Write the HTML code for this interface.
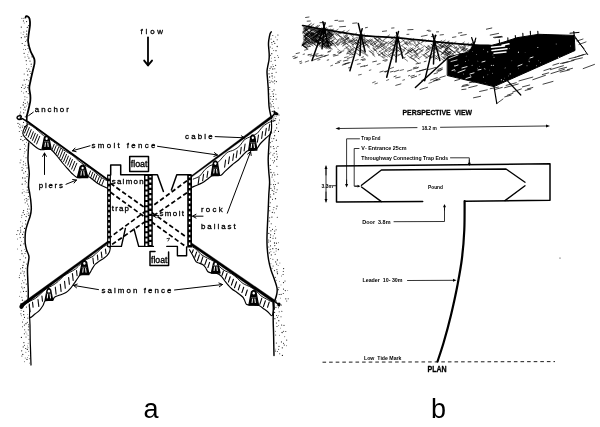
<!DOCTYPE html>
<html lang="en"><head><meta charset="utf-8"><title>Salmon trap diagrams</title>
<style>
html,body{margin:0;padding:0;background:#fff;}
body{width:600px;height:427px;overflow:hidden;}
svg{display:block;font-family:"Liberation Sans",sans-serif;font-variant-ligatures:none;font-kerning:none;}
svg text{fill:#000;stroke:none;}
</style></head><body>
<svg width="600" height="427" viewBox="0 0 600 427" stroke="#000" fill="none" stroke-linecap="round" stroke-linejoin="round">
<defs><filter id="soft" x="0" y="0" width="600" height="427" filterUnits="userSpaceOnUse"><feGaussianBlur stdDeviation="0.38"/></filter></defs>
<g filter="url(#soft)">
<rect x="0" y="0" width="600" height="427" fill="#fff" stroke="none"/>
<g id="plan">
<line x1="417.0" y1="127.6" x2="339.0" y2="128.5" stroke-width="0.8" />
<polygon points="335.5,128.5 339.5,126.9 339.5,130.1" fill="#000" stroke="none"/>
<line x1="440.5" y1="127.3" x2="546.5" y2="126.0" stroke-width="0.8" />
<polygon points="550.0,126.0 546.0,127.6 546.0,124.4" fill="#000" stroke="none"/>
<text x="421.7" y="130.2" font-size="5" letter-spacing="0" font-weight="bold" text-anchor="start" textLength="15.1" lengthAdjust="spacingAndGlyphs" style="white-space:pre">18.2 m</text>
<path d="M422.7 201.5 L336.5 202.0 L336.5 166.0 L550.0 163.8 L550.0 200.3 L464.6 201.2" stroke-width="1.5" fill="none" />
<path d="M361.5 185.3 L381.4 170.0 L506.0 169.0 L525.0 182.2" stroke-width="1.4" fill="none" />
<path d="M361.5 187.0 L381.4 201.6" stroke-width="1.4" fill="none" />
<path d="M525.0 185.8 L505.0 200.6" stroke-width="1.4" fill="none" />
<path d="M464.6 201.2 C464.6 206.0 464.7 220.5 464.3 230.0 C463.9 239.5 463.1 248.8 462.0 258.0 C460.9 267.2 459.3 275.5 457.5 285.0 C455.7 294.5 453.3 305.3 451.0 315.0 C448.7 324.7 445.8 335.2 443.5 343.0 C441.2 350.8 438.5 358.4 437.5 361.5" stroke-width="2.2" fill="none" />
<line x1="326.0" y1="175.0" x2="326.0" y2="168.5" stroke-width="0.8" />
<polygon points="326.0,165.5 327.5,169.0 324.5,169.0" fill="#000" stroke="none"/>
<line x1="326.0" y1="192.0" x2="326.0" y2="199.5" stroke-width="0.8" />
<polygon points="326.0,202.5 324.5,199.0 327.5,199.0" fill="#000" stroke="none"/>
<line x1="326.0" y1="166.0" x2="326.0" y2="202.0" stroke-width="0.8" />
<line x1="333.0" y1="185.7" x2="336.5" y2="185.7" stroke-width="0.8" />
<text x="321.5" y="187.6" font-size="5" letter-spacing="0" font-weight="bold" text-anchor="start" stroke="#fff" stroke-width="1.2" paint-order="stroke">3.3m</text>
<text x="361.3" y="140.4" font-size="4.9" letter-spacing="0" font-weight="bold" text-anchor="start" textLength="19.1" lengthAdjust="spacingAndGlyphs" style="white-space:pre">Trap End</text>
<path d="M359.5 138.8 L346.6 138.8 L346.6 184.0" stroke-width="0.8" fill="none" />
<line x1="346.6" y1="180.0" x2="346.6" y2="184.5" stroke-width="0.8" />
<polygon points="346.6,187.5 345.1,184.0 348.1,184.0" fill="#000" stroke="none"/>
<text x="361.3" y="150.1" font-size="4.9" letter-spacing="0" font-weight="bold" text-anchor="start" textLength="45.3" lengthAdjust="spacingAndGlyphs" style="white-space:pre">V- Entrance 25cm</text>
<path d="M359.0 148.5 L354.2 148.5 L354.2 186.2 L357.0 186.2" stroke-width="0.8" fill="none" />
<line x1="355.0" y1="186.2" x2="358.0" y2="186.2" stroke-width="0.8" />
<polygon points="360.5,186.2 357.5,187.6 357.5,184.8" fill="#000" stroke="none"/>
<text x="361.3" y="160.2" font-size="4.9" letter-spacing="0" font-weight="bold" text-anchor="start" textLength="86.8" lengthAdjust="spacingAndGlyphs" style="white-space:pre">Throughway Connecting Trap Ends</text>
<path d="M450.5 157.8 L469.3 157.8 L469.3 163.0" stroke-width="0.8" fill="none" />
<line x1="469.3" y1="160.0" x2="469.3" y2="163.3" stroke-width="0.8" />
<polygon points="469.3,166.0 467.8,162.8 470.8,162.8" fill="#000" stroke="none"/>
<text x="428.0" y="188.8" font-size="4.9" letter-spacing="0" font-weight="bold" text-anchor="start" textLength="15" lengthAdjust="spacingAndGlyphs" style="white-space:pre">Pound</text>
<text x="362.3" y="224.0" font-size="4.9" letter-spacing="0" font-weight="bold" text-anchor="start" textLength="28.2" lengthAdjust="spacingAndGlyphs" style="white-space:pre">Door  3.8m</text>
<path d="M394.0 221.7 L444.5 221.5 L444.5 208.0" stroke-width="0.8" fill="none" />
<line x1="444.5" y1="210.0" x2="444.5" y2="206.7" stroke-width="0.8" />
<polygon points="444.5,204.0 446.0,207.2 443.0,207.2" fill="#000" stroke="none"/>
<text x="362.5" y="282.2" font-size="4.9" letter-spacing="0" font-weight="bold" text-anchor="start" textLength="40" lengthAdjust="spacingAndGlyphs" style="white-space:pre">Leader  10- 30m</text>
<line x1="407.5" y1="280.5" x2="453.5" y2="280.3" stroke-width="0.8" />
<polygon points="456.5,280.3 453.0,281.8 453.0,278.8" fill="#000" stroke="none"/>
<line x1="322.5" y1="362.2" x2="555" y2="361.6" stroke-width="0.9" stroke-dasharray="3.6 3" stroke-linecap="butt"/>
<text x="364.0" y="360.3" font-size="4.5" letter-spacing="0" font-weight="bold" text-anchor="start" textLength="37.5" lengthAdjust="spacingAndGlyphs" style="white-space:pre">Low  Tide Mark</text>
<text x="427.5" y="371.6" font-size="8.2" letter-spacing="0" font-weight="bold" text-anchor="start" textLength="19.2" lengthAdjust="spacingAndGlyphs" style="stroke:#000;stroke-width:0.3px">PLAN</text>
<text x="438.5" y="417.8" font-size="27" letter-spacing="0" font-weight="normal" text-anchor="middle" >b</text>
<text x="402.5" y="114.9" font-size="7.8" letter-spacing="0" font-weight="bold" text-anchor="start" textLength="69.5" lengthAdjust="spacingAndGlyphs" style="white-space:pre;stroke:#000;stroke-width:0.3px">PERSPECTIVE  VIEW</text>
<circle cx="560" cy="258" r="0.6" fill="#222" stroke="none"/>
</g>
<g id="diagA">
<path d="M25.5 17.5 C25.6 17.3 25.8 16.3 26.2 16.2 C26.6 16.1 27.4 16.1 28.0 16.6 C28.6 17.1 29.3 17.6 29.6 19.0 C29.9 20.4 30.2 22.3 30.0 25.0 C29.8 27.7 28.9 32.2 28.6 35.0 C28.3 37.8 27.9 39.3 28.2 42.0 C28.5 44.7 29.5 48.2 30.5 51.0 C31.5 53.8 33.6 56.8 34.3 59.0 C34.9 61.2 34.7 61.8 34.4 64.0 C34.1 66.2 33.1 69.2 32.5 72.0 C31.9 74.8 31.0 78.3 30.5 81.0 C30.0 83.7 29.3 85.7 29.3 88.0 C29.3 90.3 30.1 92.8 30.3 95.0 C30.5 97.2 30.6 98.7 30.3 101.0 C30.0 103.3 29.2 106.3 28.6 109.0 C28.0 111.7 26.9 115.7 26.5 117.0" stroke-width="1.8" fill="none" />
<path d="M28.7 143.0 C28.6 144.5 28.3 149.2 28.2 152.0 C28.1 154.8 27.9 157.3 28.0 160.0 C28.1 162.7 28.6 165.7 28.8 168.0 C29.0 170.3 29.3 171.8 29.3 174.0 C29.3 176.2 28.8 178.8 28.7 181.0 C28.6 183.2 28.4 184.8 28.6 187.0 C28.8 189.2 29.5 191.8 29.8 194.0 C30.1 196.2 30.4 197.5 30.7 200.0 C30.9 202.5 31.4 206.3 31.3 209.0 C31.2 211.7 30.8 213.8 30.2 216.0 C29.6 218.2 28.7 220.3 28.0 222.5 C27.3 224.7 26.5 226.9 26.0 229.0 C25.5 231.1 25.3 232.7 25.2 235.0 C25.1 237.3 25.0 240.5 25.2 243.0 C25.4 245.5 26.0 247.7 26.6 250.0 C27.2 252.3 28.9 254.0 29.0 257.0 C29.1 260.0 27.7 264.2 27.5 268.0 C27.3 271.8 27.7 276.0 27.8 280.0 C27.9 284.0 28.3 288.3 28.3 292.0 C28.3 295.7 28.1 300.3 28.0 302.0" stroke-width="1.5" fill="none" />
<path d="M29.5 316.0 C29.6 317.5 29.9 321.0 30.0 325.0 C30.1 329.0 30.1 335.5 30.2 340.0 C30.3 344.5 30.5 347.8 30.6 352.0 C30.7 356.2 30.9 362.8 31.0 365.0" stroke-width="1.25" fill="none" />
<path d="M271.3 31.8 C271.1 32.2 270.4 32.6 270.0 34.0 C269.6 35.4 269.1 38.2 268.8 40.0 C268.6 41.8 268.4 42.7 268.5 45.0 C268.6 47.3 269.1 51.5 269.2 54.0 C269.3 56.5 269.3 57.8 269.0 60.0 C268.7 62.2 267.9 65.0 267.6 67.0 C267.3 69.0 267.0 69.8 267.0 72.0 C267.0 74.2 267.4 77.3 267.6 80.0 C267.8 82.7 268.0 85.0 268.2 88.0 C268.4 91.0 268.5 95.0 268.6 98.0 C268.7 101.0 268.8 103.7 269.0 106.0 C269.2 108.3 269.6 110.0 270.0 112.0 C270.4 114.0 271.2 117.0 271.5 118.0" stroke-width="1.45" fill="none" />
<path d="M270.8 132.0 C270.6 133.0 269.7 135.5 269.4 138.0 C269.1 140.5 269.0 143.3 268.8 147.0 C268.6 150.7 268.2 155.8 268.2 160.0 C268.2 164.2 268.6 168.3 268.8 172.0 C269.0 175.7 269.6 178.2 269.6 182.0 C269.6 185.8 269.0 190.7 268.8 195.0 C268.6 199.3 268.5 203.5 268.3 208.0 C268.1 212.5 267.8 217.3 267.6 222.0 C267.4 226.7 267.1 231.7 267.0 236.0 C266.9 240.3 266.9 244.0 267.2 248.0 C267.5 252.0 268.0 256.3 268.6 260.0 C269.2 263.7 270.0 266.7 271.0 270.0 C272.0 273.3 273.6 277.0 274.6 280.0 C275.6 283.0 276.6 285.7 277.0 288.0 C277.4 290.3 277.2 291.8 276.8 294.0 C276.4 296.2 275.1 299.8 274.7 301.0" stroke-width="1.45" fill="none" />
<path d="M273.4 309.0 C273.4 310.8 273.2 315.7 273.2 320.0 C273.2 324.3 273.5 329.1 273.6 335.0 C273.7 340.9 273.9 352.1 274.0 355.5" stroke-width="1.45" fill="none" />
<g fill="#1a1a1a" stroke="none"><circle cx="21.4" cy="116.2" r="0.64"/><circle cx="21.6" cy="119.0" r="0.52"/><circle cx="28.9" cy="58.1" r="0.61"/><circle cx="27.2" cy="190.1" r="0.57"/><circle cx="21.3" cy="37.7" r="0.58"/><circle cx="21.3" cy="27.1" r="0.64"/><circle cx="21.3" cy="130.6" r="0.45"/><circle cx="23.6" cy="161.8" r="0.53"/><circle cx="16.8" cy="234.5" r="0.52"/><circle cx="25.6" cy="171.6" r="0.57"/><circle cx="28.8" cy="80.7" r="0.48"/><circle cx="24.9" cy="36.9" r="0.64"/><circle cx="26.6" cy="182.5" r="0.48"/><circle cx="26.7" cy="39.9" r="0.51"/><circle cx="27.9" cy="56.6" r="0.47"/><circle cx="26.0" cy="157.7" r="0.52"/><circle cx="31.2" cy="64.2" r="0.59"/><circle cx="26.1" cy="192.3" r="0.46"/><circle cx="24.5" cy="148.5" r="0.47"/><circle cx="22.2" cy="226.1" r="0.57"/><circle cx="28.6" cy="206.0" r="0.56"/><circle cx="26.2" cy="60.7" r="0.59"/><circle cx="27.6" cy="174.3" r="0.49"/><circle cx="20.8" cy="139.4" r="0.60"/><circle cx="26.6" cy="21.6" r="0.59"/><circle cx="26.7" cy="31.1" r="0.60"/><circle cx="26.4" cy="142.2" r="0.46"/><circle cx="28.6" cy="25.6" r="0.53"/><circle cx="23.4" cy="156.1" r="0.44"/><circle cx="21.3" cy="136.5" r="0.61"/><circle cx="22.6" cy="177.9" r="0.63"/><circle cx="26.2" cy="216.6" r="0.62"/><circle cx="24.2" cy="153.6" r="0.44"/><circle cx="26.5" cy="150.1" r="0.51"/><circle cx="23.5" cy="102.3" r="0.55"/><circle cx="23.6" cy="122.4" r="0.55"/><circle cx="20.9" cy="125.9" r="0.46"/><circle cx="30.9" cy="73.5" r="0.60"/><circle cx="25.8" cy="165.2" r="0.50"/><circle cx="24.4" cy="214.5" r="0.54"/><circle cx="27.3" cy="211.5" r="0.46"/><circle cx="30.0" cy="61.1" r="0.55"/><circle cx="27.8" cy="54.7" r="0.47"/><circle cx="23.0" cy="125.2" r="0.46"/><circle cx="25.2" cy="116.7" r="0.54"/><circle cx="20.9" cy="160.1" r="0.50"/><circle cx="32.0" cy="56.8" r="0.60"/><circle cx="23.7" cy="93.0" r="0.49"/><circle cx="24.9" cy="99.8" r="0.52"/><circle cx="24.2" cy="195.6" r="0.45"/><circle cx="26.6" cy="64.3" r="0.48"/><circle cx="20.7" cy="230.1" r="0.53"/><circle cx="21.5" cy="87.5" r="0.55"/><circle cx="28.3" cy="93.6" r="0.53"/><circle cx="25.7" cy="224.0" r="0.61"/><circle cx="24.1" cy="132.3" r="0.46"/><circle cx="24.8" cy="139.5" r="0.61"/><circle cx="24.1" cy="191.8" r="0.47"/><circle cx="27.1" cy="167.9" r="0.63"/><circle cx="20.7" cy="107.8" r="0.54"/><circle cx="20.6" cy="112.1" r="0.52"/><circle cx="27.3" cy="187.1" r="0.56"/><circle cx="27.0" cy="176.6" r="0.61"/><circle cx="23.7" cy="112.8" r="0.63"/><circle cx="25.2" cy="202.7" r="0.52"/><circle cx="26.7" cy="68.5" r="0.44"/><circle cx="27.0" cy="213.9" r="0.47"/><circle cx="26.2" cy="198.6" r="0.60"/><circle cx="24.9" cy="45.3" r="0.59"/><circle cx="20.1" cy="127.7" r="0.58"/><circle cx="25.1" cy="183.9" r="0.47"/><circle cx="23.4" cy="20.9" r="0.55"/><circle cx="26.6" cy="106.0" r="0.45"/><circle cx="25.7" cy="129.2" r="0.46"/><circle cx="24.2" cy="74.0" r="0.50"/><circle cx="23.1" cy="212.6" r="0.63"/><circle cx="25.2" cy="119.7" r="0.57"/><circle cx="22.2" cy="170.2" r="0.61"/><circle cx="24.2" cy="23.0" r="0.45"/><circle cx="19.5" cy="233.9" r="0.52"/><circle cx="23.1" cy="34.5" r="0.46"/><circle cx="23.5" cy="109.3" r="0.49"/><circle cx="27.0" cy="97.3" r="0.46"/><circle cx="27.3" cy="27.3" r="0.62"/><circle cx="19.3" cy="131.6" r="0.51"/><circle cx="18.2" cy="119.6" r="0.54"/><circle cx="24.4" cy="144.3" r="0.57"/><circle cx="22.9" cy="140.6" r="0.62"/><circle cx="17.9" cy="230.6" r="0.63"/><circle cx="26.1" cy="135.5" r="0.55"/><circle cx="23.3" cy="164.8" r="0.54"/><circle cx="26.6" cy="34.1" r="0.62"/><circle cx="25.2" cy="110.1" r="0.52"/><circle cx="24.2" cy="88.6" r="0.50"/><circle cx="22.2" cy="43.5" r="0.59"/><circle cx="21.7" cy="217.3" r="0.49"/><circle cx="25.4" cy="86.9" r="0.51"/><circle cx="27.4" cy="102.1" r="0.53"/><circle cx="20.4" cy="227.7" r="0.54"/><circle cx="23.8" cy="31.9" r="0.51"/><circle cx="26.7" cy="36.2" r="0.53"/><circle cx="28.8" cy="213.1" r="0.53"/><circle cx="23.4" cy="49.2" r="0.45"/><circle cx="29.9" cy="71.3" r="0.61"/><circle cx="21.5" cy="91.3" r="0.45"/><circle cx="22.3" cy="192.9" r="0.55"/><circle cx="24.5" cy="228.4" r="0.55"/><circle cx="25.7" cy="41.6" r="0.52"/><circle cx="31.2" cy="66.6" r="0.48"/><circle cx="28.7" cy="52.1" r="0.46"/><circle cx="21.9" cy="18.3" r="0.51"/><circle cx="28.4" cy="196.4" r="0.50"/><circle cx="27.6" cy="204.0" r="0.54"/><circle cx="25.3" cy="84.3" r="0.49"/><circle cx="25.2" cy="103.5" r="0.59"/><circle cx="24.9" cy="151.7" r="0.54"/><circle cx="22.5" cy="223.1" r="0.44"/><circle cx="28.0" cy="48.6" r="0.52"/><circle cx="23.2" cy="105.0" r="0.63"/><circle cx="23.0" cy="189.4" r="0.44"/><circle cx="24.5" cy="126.6" r="0.56"/><circle cx="20.6" cy="232.1" r="0.63"/><circle cx="28.0" cy="199.3" r="0.51"/><circle cx="27.3" cy="71.1" r="0.56"/><circle cx="21.9" cy="215.3" r="0.51"/><circle cx="25.0" cy="57.1" r="0.50"/><circle cx="25.0" cy="178.1" r="0.56"/><circle cx="28.2" cy="192.4" r="0.56"/><circle cx="22.0" cy="167.6" r="0.50"/><circle cx="18.0" cy="123.4" r="0.54"/><circle cx="27.8" cy="87.6" r="0.54"/><circle cx="25.3" cy="181.2" r="0.59"/><circle cx="21.0" cy="32.9" r="0.45"/><circle cx="18.6" cy="126.2" r="0.46"/><circle cx="29.7" cy="209.0" r="0.49"/><circle cx="25.7" cy="146.0" r="0.49"/><circle cx="28.8" cy="69.1" r="0.60"/><circle cx="23.8" cy="173.1" r="0.53"/><circle cx="28.2" cy="85.5" r="0.61"/><circle cx="19.7" cy="124.2" r="0.52"/><circle cx="25.6" cy="49.4" r="0.50"/><circle cx="26.8" cy="200.9" r="0.58"/><circle cx="29.9" cy="77.6" r="0.46"/><circle cx="27.8" cy="74.9" r="0.64"/><circle cx="22.2" cy="184.2" r="0.61"/><circle cx="20.1" cy="162.7" r="0.51"/><circle cx="24.9" cy="96.7" r="0.50"/><circle cx="24.8" cy="107.2" r="0.60"/><circle cx="28.8" cy="215.4" r="0.60"/><circle cx="23.9" cy="18.2" r="0.57"/><circle cx="27.4" cy="45.3" r="0.45"/><circle cx="24.1" cy="53.3" r="0.59"/><circle cx="25.4" cy="163.3" r="0.45"/><circle cx="24.2" cy="80.1" r="0.56"/><circle cx="23.1" cy="135.7" r="0.55"/><circle cx="22.8" cy="85.1" r="0.63"/><circle cx="26.8" cy="79.6" r="0.57"/><circle cx="23.7" cy="168.6" r="0.44"/><circle cx="25.6" cy="220.6" r="0.63"/><circle cx="22.6" cy="234.4" r="0.59"/><circle cx="28.1" cy="103.9" r="0.56"/><circle cx="20.7" cy="221.7" r="0.44"/><circle cx="20.0" cy="114.2" r="0.59"/><circle cx="23.7" cy="231.9" r="0.52"/><circle cx="22.6" cy="127.1" r="0.58"/><circle cx="27.7" cy="209.1" r="0.64"/><circle cx="23.6" cy="210.6" r="0.62"/><circle cx="24.4" cy="199.7" r="0.45"/><circle cx="26.3" cy="91.7" r="0.60"/><circle cx="20.1" cy="149.4" r="0.53"/></g>
<g fill="#1a1a1a" stroke="none"><circle cx="25.9" cy="332.0" r="0.49"/><circle cx="26.2" cy="291.4" r="0.60"/><circle cx="28.3" cy="329.8" r="0.58"/><circle cx="23.9" cy="342.6" r="0.59"/><circle cx="24.4" cy="249.6" r="0.45"/><circle cx="25.2" cy="358.0" r="0.45"/><circle cx="23.9" cy="262.2" r="0.60"/><circle cx="28.1" cy="343.3" r="0.47"/><circle cx="26.7" cy="295.9" r="0.48"/><circle cx="21.5" cy="283.7" r="0.45"/><circle cx="28.1" cy="335.4" r="0.47"/><circle cx="25.3" cy="279.7" r="0.53"/><circle cx="23.6" cy="311.3" r="0.63"/><circle cx="20.6" cy="268.7" r="0.50"/><circle cx="25.8" cy="268.2" r="0.49"/><circle cx="23.7" cy="314.7" r="0.61"/><circle cx="25.9" cy="352.3" r="0.48"/><circle cx="24.4" cy="325.1" r="0.57"/><circle cx="24.4" cy="333.7" r="0.56"/><circle cx="24.2" cy="271.8" r="0.63"/><circle cx="28.0" cy="347.7" r="0.45"/><circle cx="24.4" cy="345.3" r="0.55"/><circle cx="24.7" cy="329.7" r="0.52"/><circle cx="22.4" cy="300.2" r="0.60"/><circle cx="28.6" cy="351.3" r="0.49"/><circle cx="23.9" cy="243.8" r="0.58"/><circle cx="24.4" cy="361.8" r="0.48"/><circle cx="25.4" cy="303.0" r="0.54"/><circle cx="20.6" cy="245.2" r="0.63"/><circle cx="23.8" cy="273.7" r="0.49"/><circle cx="21.9" cy="356.1" r="0.50"/><circle cx="22.8" cy="354.4" r="0.62"/><circle cx="20.2" cy="237.6" r="0.57"/><circle cx="28.8" cy="355.4" r="0.45"/><circle cx="29.4" cy="358.8" r="0.48"/><circle cx="17.5" cy="239.1" r="0.49"/><circle cx="29.0" cy="339.2" r="0.50"/><circle cx="21.4" cy="337.4" r="0.61"/><circle cx="24.3" cy="287.6" r="0.58"/><circle cx="22.6" cy="267.7" r="0.64"/><circle cx="22.5" cy="322.0" r="0.57"/><circle cx="23.9" cy="282.8" r="0.57"/><circle cx="26.0" cy="337.0" r="0.52"/><circle cx="26.3" cy="284.1" r="0.58"/><circle cx="25.0" cy="253.5" r="0.54"/><circle cx="21.6" cy="241.4" r="0.45"/><circle cx="21.6" cy="250.8" r="0.54"/><circle cx="21.3" cy="308.2" r="0.52"/><circle cx="20.1" cy="259.6" r="0.55"/><circle cx="22.8" cy="288.8" r="0.45"/><circle cx="23.5" cy="256.0" r="0.45"/><circle cx="26.0" cy="323.7" r="0.64"/><circle cx="21.9" cy="297.2" r="0.51"/><circle cx="22.5" cy="326.8" r="0.51"/><circle cx="24.2" cy="301.0" r="0.47"/><circle cx="20.9" cy="313.8" r="0.56"/><circle cx="27.9" cy="318.1" r="0.62"/><circle cx="17.6" cy="249.1" r="0.48"/><circle cx="23.2" cy="346.9" r="0.54"/><circle cx="24.5" cy="317.4" r="0.54"/><circle cx="24.4" cy="275.8" r="0.59"/><circle cx="19.3" cy="277.6" r="0.55"/><circle cx="22.3" cy="271.0" r="0.49"/><circle cx="22.5" cy="280.8" r="0.48"/><circle cx="23.0" cy="265.4" r="0.58"/><circle cx="19.5" cy="296.3" r="0.46"/><circle cx="21.8" cy="287.0" r="0.61"/><circle cx="27.7" cy="314.4" r="0.45"/><circle cx="25.5" cy="251.6" r="0.48"/><circle cx="23.4" cy="237.2" r="0.53"/><circle cx="27.3" cy="349.4" r="0.61"/><circle cx="23.5" cy="291.4" r="0.56"/><circle cx="25.7" cy="348.5" r="0.59"/><circle cx="21.7" cy="350.8" r="0.59"/><circle cx="20.8" cy="273.2" r="0.58"/><circle cx="23.3" cy="319.6" r="0.45"/><circle cx="28.7" cy="326.8" r="0.61"/><circle cx="26.9" cy="333.9" r="0.47"/><circle cx="21.1" cy="310.2" r="0.47"/><circle cx="27.4" cy="357.6" r="0.45"/><circle cx="21.3" cy="315.7" r="0.45"/><circle cx="22.0" cy="253.7" r="0.62"/><circle cx="28.6" cy="324.7" r="0.52"/><circle cx="27.5" cy="345.9" r="0.46"/><circle cx="20.8" cy="292.0" r="0.45"/><circle cx="27.0" cy="359.4" r="0.61"/><circle cx="27.3" cy="322.3" r="0.56"/><circle cx="25.6" cy="257.8" r="0.62"/><circle cx="19.6" cy="275.2" r="0.45"/><circle cx="20.8" cy="303.8" r="0.46"/><circle cx="26.7" cy="263.9" r="0.50"/><circle cx="20.2" cy="306.3" r="0.48"/><circle cx="29.6" cy="363.1" r="0.46"/><circle cx="24.4" cy="305.1" r="0.48"/><circle cx="26.4" cy="307.1" r="0.57"/></g>
<g fill="#1a1a1a" stroke="none"><circle cx="270.0" cy="68.6" r="0.64"/><circle cx="272.3" cy="111.4" r="0.61"/><circle cx="273.8" cy="138.6" r="0.59"/><circle cx="270.1" cy="103.2" r="0.58"/><circle cx="272.9" cy="155.1" r="0.55"/><circle cx="269.7" cy="227.6" r="0.49"/><circle cx="273.7" cy="179.9" r="0.46"/><circle cx="269.2" cy="221.1" r="0.57"/><circle cx="275.9" cy="94.3" r="0.49"/><circle cx="279.0" cy="115.0" r="0.56"/><circle cx="278.4" cy="57.2" r="0.55"/><circle cx="272.3" cy="212.4" r="0.56"/><circle cx="277.3" cy="217.3" r="0.53"/><circle cx="270.5" cy="194.8" r="0.49"/><circle cx="272.2" cy="91.6" r="0.50"/><circle cx="272.0" cy="73.4" r="0.58"/><circle cx="270.4" cy="237.3" r="0.62"/><circle cx="272.0" cy="176.9" r="0.50"/><circle cx="272.3" cy="101.6" r="0.50"/><circle cx="270.2" cy="165.4" r="0.53"/><circle cx="272.9" cy="81.9" r="0.53"/><circle cx="273.2" cy="99.5" r="0.57"/><circle cx="274.3" cy="186.8" r="0.59"/><circle cx="275.6" cy="65.3" r="0.59"/><circle cx="275.4" cy="184.5" r="0.60"/><circle cx="268.8" cy="233.4" r="0.59"/><circle cx="273.7" cy="41.4" r="0.63"/><circle cx="274.8" cy="174.9" r="0.53"/><circle cx="275.1" cy="60.4" r="0.53"/><circle cx="271.1" cy="104.9" r="0.57"/><circle cx="276.8" cy="153.9" r="0.50"/><circle cx="270.6" cy="234.8" r="0.61"/><circle cx="274.2" cy="132.1" r="0.52"/><circle cx="276.7" cy="127.9" r="0.55"/><circle cx="276.2" cy="116.0" r="0.54"/><circle cx="268.7" cy="239.9" r="0.51"/><circle cx="272.8" cy="64.7" r="0.44"/><circle cx="273.9" cy="191.3" r="0.50"/><circle cx="271.1" cy="61.3" r="0.54"/><circle cx="270.9" cy="188.3" r="0.63"/><circle cx="272.4" cy="78.1" r="0.47"/><circle cx="274.8" cy="43.3" r="0.62"/><circle cx="278.2" cy="183.1" r="0.63"/><circle cx="277.9" cy="146.5" r="0.60"/><circle cx="274.8" cy="68.7" r="0.50"/><circle cx="273.6" cy="103.4" r="0.44"/><circle cx="271.8" cy="53.7" r="0.62"/><circle cx="270.5" cy="158.7" r="0.45"/><circle cx="274.6" cy="157.2" r="0.50"/><circle cx="276.7" cy="159.3" r="0.63"/><circle cx="275.7" cy="118.6" r="0.57"/><circle cx="273.2" cy="106.6" r="0.60"/><circle cx="275.5" cy="198.7" r="0.61"/><circle cx="270.7" cy="99.0" r="0.48"/><circle cx="271.2" cy="223.8" r="0.54"/><circle cx="271.4" cy="58.1" r="0.46"/><circle cx="269.7" cy="217.8" r="0.52"/><circle cx="272.2" cy="190.4" r="0.54"/><circle cx="273.2" cy="93.9" r="0.60"/><circle cx="270.9" cy="184.2" r="0.50"/><circle cx="272.5" cy="199.3" r="0.57"/><circle cx="275.6" cy="120.7" r="0.47"/><circle cx="278.2" cy="108.1" r="0.49"/><circle cx="270.8" cy="152.3" r="0.45"/><circle cx="273.0" cy="238.3" r="0.56"/><circle cx="274.7" cy="231.0" r="0.56"/><circle cx="278.5" cy="131.4" r="0.58"/><circle cx="273.3" cy="66.5" r="0.52"/><circle cx="276.4" cy="140.2" r="0.63"/><circle cx="276.3" cy="151.4" r="0.58"/><circle cx="276.6" cy="124.4" r="0.55"/><circle cx="270.8" cy="146.8" r="0.61"/><circle cx="272.2" cy="48.3" r="0.48"/><circle cx="272.1" cy="141.2" r="0.50"/><circle cx="269.7" cy="153.8" r="0.55"/><circle cx="277.1" cy="189.7" r="0.56"/><circle cx="269.6" cy="77.0" r="0.63"/><circle cx="276.4" cy="81.6" r="0.58"/><circle cx="274.5" cy="83.7" r="0.45"/><circle cx="273.7" cy="193.9" r="0.63"/><circle cx="275.3" cy="130.4" r="0.53"/><circle cx="273.7" cy="50.4" r="0.48"/><circle cx="269.8" cy="206.5" r="0.59"/><circle cx="270.6" cy="196.9" r="0.57"/><circle cx="276.2" cy="99.0" r="0.61"/><circle cx="273.5" cy="96.4" r="0.55"/><circle cx="272.1" cy="44.4" r="0.49"/><circle cx="270.3" cy="202.8" r="0.53"/><circle cx="273.5" cy="184.6" r="0.53"/><circle cx="270.3" cy="47.0" r="0.51"/><circle cx="273.4" cy="146.5" r="0.56"/><circle cx="269.8" cy="93.9" r="0.47"/><circle cx="269.9" cy="89.6" r="0.49"/><circle cx="271.9" cy="133.0" r="0.46"/><circle cx="274.3" cy="108.2" r="0.45"/><circle cx="271.1" cy="39.0" r="0.55"/><circle cx="274.0" cy="148.6" r="0.59"/><circle cx="274.6" cy="188.8" r="0.52"/><circle cx="277.0" cy="206.2" r="0.62"/><circle cx="273.9" cy="172.8" r="0.56"/><circle cx="274.1" cy="153.3" r="0.57"/><circle cx="269.8" cy="210.8" r="0.50"/><circle cx="274.4" cy="160.9" r="0.62"/><circle cx="272.8" cy="35.5" r="0.51"/><circle cx="276.0" cy="50.7" r="0.61"/><circle cx="277.7" cy="55.5" r="0.49"/><circle cx="271.0" cy="172.5" r="0.63"/><circle cx="277.4" cy="156.8" r="0.58"/><circle cx="274.7" cy="77.1" r="0.48"/><circle cx="271.8" cy="42.6" r="0.59"/><circle cx="274.7" cy="181.6" r="0.47"/><circle cx="276.1" cy="229.7" r="0.52"/><circle cx="276.3" cy="208.8" r="0.52"/><circle cx="274.2" cy="115.9" r="0.51"/><circle cx="274.3" cy="212.7" r="0.51"/><circle cx="272.4" cy="160.4" r="0.47"/><circle cx="277.7" cy="174.3" r="0.52"/><circle cx="275.7" cy="37.0" r="0.46"/><circle cx="277.9" cy="35.0" r="0.60"/><circle cx="276.0" cy="192.6" r="0.51"/><circle cx="275.6" cy="238.1" r="0.58"/><circle cx="270.3" cy="142.6" r="0.53"/><circle cx="277.2" cy="46.5" r="0.63"/><circle cx="271.9" cy="217.1" r="0.62"/><circle cx="270.9" cy="230.8" r="0.58"/><circle cx="274.6" cy="135.7" r="0.61"/><circle cx="271.0" cy="106.8" r="0.62"/><circle cx="272.1" cy="76.0" r="0.63"/><circle cx="270.7" cy="169.5" r="0.52"/><circle cx="273.1" cy="119.8" r="0.56"/><circle cx="275.6" cy="226.6" r="0.45"/><circle cx="270.9" cy="96.6" r="0.51"/><circle cx="277.2" cy="39.8" r="0.51"/><circle cx="274.6" cy="233.6" r="0.56"/><circle cx="271.8" cy="138.2" r="0.44"/><circle cx="279.5" cy="120.0" r="0.59"/><circle cx="273.2" cy="209.8" r="0.45"/><circle cx="273.9" cy="118.0" r="0.52"/><circle cx="273.8" cy="121.5" r="0.54"/><circle cx="271.1" cy="66.9" r="0.61"/><circle cx="269.7" cy="87.5" r="0.57"/><circle cx="273.2" cy="235.9" r="0.47"/><circle cx="276.9" cy="166.3" r="0.57"/><circle cx="269.1" cy="80.4" r="0.49"/><circle cx="270.0" cy="82.6" r="0.56"/><circle cx="271.2" cy="81.0" r="0.52"/><circle cx="269.0" cy="73.8" r="0.63"/><circle cx="273.5" cy="162.7" r="0.53"/><circle cx="278.8" cy="123.1" r="0.49"/><circle cx="276.1" cy="72.2" r="0.50"/><circle cx="272.8" cy="69.0" r="0.63"/><circle cx="274.8" cy="57.5" r="0.51"/><circle cx="276.5" cy="147.9" r="0.49"/><circle cx="274.0" cy="89.9" r="0.55"/><circle cx="272.4" cy="174.9" r="0.57"/><circle cx="274.6" cy="80.8" r="0.63"/><circle cx="269.1" cy="70.6" r="0.46"/><circle cx="270.6" cy="55.2" r="0.51"/><circle cx="272.5" cy="229.3" r="0.58"/><circle cx="273.9" cy="207.5" r="0.54"/></g>
<g fill="#1a1a1a" stroke="none"><circle cx="270.5" cy="245.8" r="0.60"/><circle cx="274.5" cy="243.0" r="0.63"/><circle cx="270.7" cy="258.5" r="0.45"/><circle cx="270.2" cy="249.2" r="0.55"/><circle cx="283.1" cy="274.5" r="0.58"/><circle cx="279.4" cy="335.2" r="0.48"/><circle cx="274.0" cy="252.3" r="0.44"/><circle cx="281.6" cy="325.0" r="0.62"/><circle cx="277.4" cy="259.9" r="0.60"/><circle cx="274.9" cy="318.7" r="0.58"/><circle cx="268.8" cy="247.0" r="0.51"/><circle cx="281.4" cy="341.9" r="0.53"/><circle cx="285.3" cy="290.6" r="0.60"/><circle cx="278.5" cy="315.7" r="0.46"/><circle cx="276.6" cy="264.1" r="0.58"/><circle cx="276.5" cy="301.0" r="0.58"/><circle cx="276.4" cy="323.0" r="0.53"/><circle cx="282.4" cy="355.4" r="0.63"/><circle cx="281.1" cy="294.4" r="0.57"/><circle cx="282.3" cy="347.8" r="0.62"/><circle cx="279.9" cy="262.9" r="0.48"/><circle cx="276.6" cy="315.5" r="0.52"/><circle cx="272.9" cy="259.2" r="0.50"/><circle cx="277.4" cy="317.3" r="0.54"/><circle cx="283.5" cy="289.1" r="0.59"/><circle cx="282.1" cy="332.5" r="0.64"/><circle cx="272.8" cy="248.7" r="0.62"/><circle cx="269.4" cy="252.9" r="0.61"/><circle cx="278.4" cy="249.5" r="0.64"/><circle cx="270.3" cy="241.1" r="0.59"/><circle cx="275.5" cy="351.0" r="0.59"/><circle cx="280.5" cy="328.1" r="0.46"/><circle cx="283.3" cy="293.6" r="0.52"/><circle cx="283.3" cy="271.5" r="0.54"/><circle cx="276.2" cy="280.2" r="0.46"/><circle cx="277.2" cy="271.9" r="0.62"/><circle cx="283.6" cy="331.3" r="0.51"/><circle cx="275.4" cy="331.2" r="0.49"/><circle cx="270.9" cy="263.7" r="0.46"/><circle cx="281.4" cy="305.0" r="0.55"/><circle cx="273.1" cy="265.9" r="0.51"/><circle cx="283.5" cy="282.6" r="0.63"/><circle cx="277.0" cy="326.5" r="0.57"/><circle cx="284.0" cy="325.4" r="0.53"/><circle cx="286.6" cy="345.8" r="0.47"/><circle cx="279.4" cy="281.6" r="0.45"/><circle cx="271.3" cy="254.9" r="0.58"/><circle cx="275.4" cy="277.2" r="0.56"/><circle cx="279.7" cy="353.7" r="0.54"/><circle cx="279.0" cy="346.4" r="0.54"/><circle cx="285.8" cy="331.5" r="0.52"/><circle cx="285.8" cy="298.8" r="0.62"/><circle cx="277.1" cy="305.7" r="0.45"/><circle cx="278.1" cy="265.5" r="0.49"/><circle cx="278.8" cy="320.7" r="0.60"/><circle cx="275.7" cy="335.0" r="0.50"/><circle cx="278.5" cy="307.7" r="0.51"/><circle cx="278.9" cy="287.6" r="0.53"/><circle cx="277.3" cy="351.5" r="0.50"/><circle cx="276.5" cy="243.2" r="0.59"/><circle cx="281.4" cy="276.0" r="0.46"/><circle cx="275.9" cy="307.4" r="0.55"/><circle cx="274.6" cy="312.4" r="0.58"/><circle cx="272.0" cy="268.2" r="0.51"/><circle cx="285.0" cy="281.0" r="0.59"/><circle cx="281.0" cy="316.7" r="0.51"/><circle cx="278.6" cy="349.2" r="0.56"/><circle cx="280.4" cy="298.1" r="0.46"/><circle cx="279.2" cy="311.8" r="0.50"/><circle cx="279.2" cy="294.5" r="0.55"/><circle cx="281.8" cy="311.2" r="0.56"/><circle cx="288.2" cy="298.8" r="0.53"/><circle cx="287.7" cy="290.4" r="0.45"/><circle cx="283.5" cy="343.2" r="0.55"/><circle cx="284.3" cy="345.0" r="0.61"/><circle cx="276.1" cy="250.9" r="0.49"/><circle cx="270.9" cy="251.7" r="0.48"/><circle cx="275.2" cy="254.3" r="0.56"/><circle cx="278.6" cy="242.7" r="0.49"/><circle cx="278.6" cy="325.4" r="0.46"/><circle cx="275.8" cy="349.1" r="0.45"/><circle cx="275.7" cy="261.9" r="0.56"/><circle cx="276.1" cy="248.6" r="0.62"/><circle cx="276.4" cy="343.0" r="0.59"/><circle cx="276.9" cy="269.6" r="0.56"/><circle cx="277.5" cy="273.7" r="0.61"/><circle cx="274.5" cy="270.6" r="0.61"/><circle cx="284.7" cy="336.7" r="0.49"/><circle cx="268.6" cy="242.0" r="0.52"/><circle cx="278.2" cy="289.7" r="0.63"/><circle cx="283.6" cy="268.6" r="0.63"/><circle cx="274.8" cy="245.6" r="0.57"/><circle cx="286.7" cy="340.1" r="0.57"/><circle cx="286.7" cy="301.0" r="0.51"/><circle cx="281.0" cy="284.9" r="0.46"/></g>
<path d="M26.3 123.0 C27.4 123.6 30.6 125.1 32.6 126.4 C34.6 127.7 36.3 129.4 38.2 130.9 C40.0 132.4 41.6 134.2 43.5 135.6 C45.5 137.0 47.7 137.9 49.7 139.2 C51.8 140.4 53.8 141.7 55.6 143.2 C57.4 144.7 59.0 146.7 60.8 148.1 C62.7 149.6 64.8 150.7 66.8 151.9 C68.9 153.2 71.1 154.2 73.0 155.6 C74.9 157.0 76.4 158.9 78.2 160.5 C80.1 162.0 81.9 163.4 83.9 164.7 C85.9 166.0 88.3 166.8 90.2 168.2 C92.2 169.5 93.9 171.2 95.7 172.7 C97.5 174.3 99.2 176.0 101.1 177.4 C103.0 178.7 106.3 180.3 107.4 180.9" stroke-width="0.9" fill="none" />
<path d="M27.4 124.4 C26.9 125.0 25.3 126.5 24.5 128.0 C23.7 129.5 22.6 131.8 22.8 133.5 C23.1 135.2 24.6 136.9 26.0 138.5 C27.4 140.1 29.2 141.5 31.0 143.0 C32.8 144.5 35.1 146.6 36.7 147.7 C38.3 148.8 39.4 149.3 40.5 149.6 C41.6 149.9 41.9 149.7 43.5 149.6 C45.1 149.5 48.5 149.0 50.0 149.2 C51.5 149.4 51.5 149.9 52.7 151.0 C53.9 152.1 55.3 153.9 57.0 156.0 C58.7 158.1 61.2 161.3 63.0 163.5 C64.8 165.7 66.5 167.3 68.0 169.0 C69.5 170.7 70.5 172.1 72.0 173.5 C73.5 174.9 75.0 176.5 76.7 177.2 C78.4 177.8 80.2 177.6 82.0 177.4 C83.8 177.2 85.8 176.0 87.5 176.3 C89.2 176.6 90.5 177.9 92.0 179.0 C93.5 180.1 95.0 181.6 96.7 182.7 C98.4 183.8 100.2 184.9 102.0 185.8 C103.8 186.7 106.5 187.8 107.4 188.2" stroke-width="1.15" fill="none" />
<path d="M27.4 125.8L24.5 133.1 M29.3 127.5L26.2 135.1 M31.2 129.6L28.2 137.2 M33.3 131.8L30.6 138.7 M35.3 133.3L32.5 140.4 M37.6 134.6L34.4 142.4 M39.7 136.3L36.6 144.0 M54.2 144.2L52.0 149.9 M56.2 145.7L54.0 151.2 M58.5 147.5L56.1 153.5 M60.6 148.7L57.8 155.7 M62.6 150.5L59.7 157.8 M64.7 152.3L61.6 159.8 M66.5 154.3L63.6 161.5 M68.4 156.1L65.5 163.3 M70.5 158.0L67.7 165.1 M72.4 159.5L69.5 166.9 M74.7 161.4L71.6 169.1 M76.8 163.3L73.7 170.9 M90.6 170.9L88.5 176.0 M92.8 172.2L90.7 177.6 M94.8 173.9L92.9 178.7 M97.0 175.0L94.8 180.7 M99.4 176.7L97.1 182.5 M101.3 178.5L99.3 183.5 M103.7 180.3L101.8 184.9" stroke-width="0.95" fill="none" stroke="#000"/>
<line x1="27.4" y1="121.5" x2="108.0" y2="180.0" stroke-width="2.0" />
<path d="M42.1 149.0 L44.4 137.5 Q46.6 134.3 48.8 137.5 L51.1 149.0 Z" stroke-width="1.3" fill="#000" />
<ellipse cx="46.6" cy="138.7" rx="1.15" ry="1.35" fill="#fff" stroke="none"/>
<path d="M45.4 143.0L45.0 146.6 M47.8 143.0L48.2 146.6" stroke="#fff" stroke-width="1.0"/>
<path d="M44.4 141.7L48.8 141.7" stroke="#fff" stroke-width="0.5" stroke-opacity="0.7"/>
<path d="M77.3 177.6 L80.1 166.8 Q82.6 163.6 85.1 166.8 L87.9 177.6 Z" stroke-width="1.3" fill="#000" />
<ellipse cx="82.6" cy="168.0" rx="1.15" ry="1.35" fill="#fff" stroke="none"/>
<path d="M81.4 171.6L81.0 175.2 M83.8 171.6L84.2 175.2" stroke="#fff" stroke-width="1.0"/>
<path d="M80.4 170.3L84.8 170.3" stroke="#fff" stroke-width="0.5" stroke-opacity="0.7"/>
<path d="M274.7 120.4 C273.6 120.8 269.9 121.9 267.8 123.0 C265.6 124.2 263.7 125.6 262.0 127.3 C260.2 128.9 259.3 131.7 257.4 133.2 C255.6 134.7 253.1 135.4 250.9 136.5 C248.7 137.6 246.2 138.2 244.4 139.7 C242.6 141.3 241.6 144.0 239.9 145.7 C238.1 147.4 236.2 148.7 234.1 149.9 C231.9 151.0 229.1 151.2 227.1 152.6 C225.1 153.9 223.8 156.2 222.1 157.9 C220.5 159.7 219.1 161.8 217.0 163.1 C215.0 164.4 212.1 164.5 210.0 165.7 C207.9 166.9 206.1 168.5 204.4 170.2 C202.7 171.9 201.7 174.5 199.8 176.0 C197.9 177.5 194.3 178.6 193.2 179.1" stroke-width="0.9" fill="none" />
<path d="M271.4 120.0 C271.4 121.2 271.7 124.8 271.6 127.0 C271.5 129.2 271.6 131.6 270.7 133.4 C269.8 135.2 267.7 136.3 266.0 138.0 C264.3 139.7 262.0 141.8 260.5 143.5 C259.0 145.2 258.2 147.4 257.0 148.5 C255.8 149.6 254.6 149.8 253.0 150.2 C251.4 150.6 249.4 149.9 247.7 150.7 C246.0 151.5 244.6 153.4 243.0 155.0 C241.4 156.6 240.2 158.3 238.4 160.0 C236.6 161.7 234.2 163.1 232.0 165.0 C229.8 166.9 226.8 169.7 225.0 171.4 C223.2 173.1 222.5 174.5 221.0 175.2 C219.5 175.9 217.6 175.5 216.0 175.6 C214.4 175.7 213.2 175.3 211.7 176.0 C210.2 176.7 208.6 178.4 207.0 179.5 C205.4 180.6 204.1 181.8 202.4 182.7 C200.7 183.6 198.8 184.4 197.0 185.2 C195.2 186.0 192.6 187.0 191.7 187.4" stroke-width="1.15" fill="none" />
<path d="M268.8 130.7L269.7 124.4 M265.2 135.4L266.3 128.4 M261.6 138.5L262.6 131.6 M257.4 142.2L258.5 135.0 M244.1 150.9L245.1 144.0 M240.3 154.0L241.3 147.2 M236.2 157.6L237.2 150.8 M232.7 160.5L233.7 153.8 M228.4 163.8L229.5 156.9 M224.6 167.1L225.6 160.0 M207.0 177.4L207.9 171.2 M202.6 180.8L203.6 174.2 M198.2 183.6L199.1 177.4" stroke-width="1.1" fill="none" stroke="#111"/>
<polygon points="271.25,115.70 190.91,176.08 191.69,177.12 272.75,117.70" fill="#000" stroke="#000" stroke-width="0.3"/>
<path d="M248.7 150.0 L250.8 136.6 Q252.8 133.4 254.8 136.6 L256.9 150.0 Z" stroke-width="1.3" fill="#000" />
<ellipse cx="252.8" cy="137.8" rx="1.15" ry="1.35" fill="#fff" stroke="none"/>
<path d="M251.6 144.0L251.2 147.6 M254.0 144.0L254.4 147.6" stroke="#fff" stroke-width="1.0"/>
<path d="M250.6 142.7L255.0 142.7" stroke="#fff" stroke-width="0.5" stroke-opacity="0.7"/>
<path d="M211.3 175.4 L213.4 162.4 Q215.4 159.2 217.4 162.4 L219.5 175.4 Z" stroke-width="1.3" fill="#000" />
<ellipse cx="215.4" cy="163.6" rx="1.15" ry="1.35" fill="#fff" stroke="none"/>
<path d="M214.2 169.4L213.8 173.0 M216.6 169.4L217.0 173.0" stroke="#fff" stroke-width="1.0"/>
<path d="M213.2 168.1L217.6 168.1" stroke="#fff" stroke-width="0.5" stroke-opacity="0.7"/>
<path d="M23.4 306.0 C24.3 305.2 27.0 302.9 29.0 301.6 C31.0 300.4 33.5 299.7 35.4 298.4 C37.4 297.0 39.1 295.2 40.8 293.7 C42.6 292.1 44.2 290.2 46.1 288.8 C48.1 287.5 50.5 286.8 52.5 285.5 C54.6 284.3 56.5 282.9 58.3 281.3 C60.1 279.8 61.5 277.7 63.4 276.2 C65.3 274.7 67.5 273.8 69.5 272.5 C71.6 271.3 73.8 270.3 75.7 268.9 C77.6 267.4 79.0 265.3 80.8 263.8 C82.6 262.2 84.5 260.8 86.5 259.6 C88.6 258.3 91.0 257.6 92.9 256.3 C94.9 254.9 96.5 253.0 98.2 251.4 C100.0 249.8 101.7 248.1 103.6 246.7 C105.6 245.4 109.0 244.0 110.0 243.4" stroke-width="0.9" fill="none" />
<path d="M29.3 304.0 C29.4 305.2 29.5 308.7 29.6 311.0 C29.7 313.3 29.1 317.1 30.0 317.6 C30.9 318.1 33.4 315.2 35.0 314.0 C36.6 312.8 38.2 311.8 39.5 310.4 C40.8 309.0 42.0 307.1 43.0 305.5 C44.0 303.9 43.8 301.7 45.4 300.8 C47.0 299.9 50.9 300.8 52.4 300.2 C53.9 299.6 53.2 298.1 54.5 297.2 C55.8 296.3 58.1 295.8 60.0 295.0 C61.9 294.2 64.2 293.7 66.0 292.6 C67.8 291.5 69.2 289.9 70.5 288.4 C71.8 286.9 72.8 285.2 74.0 283.6 C75.2 282.0 76.4 280.0 77.5 278.5 C78.6 277.0 78.9 275.4 80.8 274.6 C82.7 273.8 86.9 274.6 88.7 273.8 C90.5 273.0 90.5 271.6 91.5 270.0 C92.5 268.4 93.8 265.9 95.0 264.5 C96.2 263.1 97.6 262.4 99.0 261.4 C100.4 260.4 102.1 259.6 103.4 258.6 C104.7 257.6 106.0 256.7 107.0 255.6 C108.0 254.5 108.8 253.3 109.4 252.0 C110.0 250.7 110.2 248.3 110.4 247.6" stroke-width="1.15" fill="none" />
<path d="M29.3 305.5L30.1 311.8 M32.5 302.2L33.1 307.1 M38.0 299.5L38.8 306.4 M41.9 296.0L42.5 301.3 M55.3 287.2L56.1 294.2 M60.3 284.3L61.1 291.4 M64.5 281.3L65.3 288.3 M68.6 277.6L69.4 284.3 M72.4 273.6L73.2 280.5 M76.5 270.5L77.1 275.7 M92.9 258.0L93.6 263.6 M97.4 255.1L97.9 260.0 M101.3 252.0L101.9 257.6 M105.4 249.1L106.0 253.6 M109.0 245.4L109.3 247.8" stroke-width="1.15" fill="none" stroke="#111"/>
<polygon points="21.61,303.59 108.14,240.83 109.26,242.37 23.39,306.01" fill="#000" stroke="#000" stroke-width="0.3"/>
<path d="M45.1 300.4 L47.1 290.0 Q48.9 286.8 50.7 290.0 L52.7 300.4 Z" stroke-width="1.3" fill="#000" />
<ellipse cx="48.9" cy="291.2" rx="1.15" ry="1.35" fill="#fff" stroke="none"/>
<path d="M47.7 294.4L47.3 298.0 M50.1 294.4L50.5 298.0" stroke="#fff" stroke-width="1.0"/>
<path d="M46.7 293.1L51.1 293.1" stroke="#fff" stroke-width="0.5" stroke-opacity="0.7"/>
<path d="M79.8 274.6 L82.2 262.2 Q84.4 259.0 86.6 262.2 L89.0 274.6 Z" stroke-width="1.3" fill="#000" />
<ellipse cx="84.4" cy="263.4" rx="1.15" ry="1.35" fill="#fff" stroke="none"/>
<path d="M83.2 268.6L82.8 272.2 M85.6 268.6L86.0 272.2" stroke="#fff" stroke-width="1.0"/>
<path d="M82.2 267.3L86.6 267.3" stroke="#fff" stroke-width="0.5" stroke-opacity="0.7"/>
<path d="M273.9 302.8 C272.8 302.2 269.5 300.6 267.4 299.5 C265.2 298.3 262.9 297.4 261.0 295.9 C259.1 294.4 257.7 292.1 255.8 290.6 C253.9 289.0 251.8 287.8 249.7 286.6 C247.5 285.5 245.0 284.9 243.0 283.5 C240.9 282.2 239.4 280.1 237.6 278.5 C235.7 276.9 234.0 275.2 231.9 273.9 C229.8 272.6 227.2 272.2 225.1 270.9 C223.0 269.7 221.1 268.1 219.3 266.5 C217.4 264.9 215.9 262.7 213.9 261.4 C212.0 260.0 209.5 259.3 207.3 258.1 C205.2 257.0 203.0 255.9 201.0 254.4 C199.1 252.9 197.8 250.6 195.9 249.1 C193.9 247.6 190.6 245.9 189.6 245.3" stroke-width="0.9" fill="none" />
<path d="M273.6 303.0 C273.6 304.0 273.9 306.9 273.6 309.0 C273.3 311.1 272.9 315.2 272.0 315.7 C271.1 316.2 269.3 313.1 268.0 312.0 C266.7 310.9 265.5 310.1 264.0 309.0 C262.5 307.9 260.8 306.2 259.0 305.5 C257.2 304.8 255.1 305.2 253.0 305.0 C250.9 304.8 248.1 305.2 246.7 304.4 C245.3 303.6 245.2 301.2 244.5 300.0 C243.8 298.8 243.9 298.2 242.7 297.0 C241.4 295.8 238.8 293.8 237.0 292.5 C235.2 291.2 233.4 290.2 232.0 289.0 C230.6 287.8 229.6 286.7 228.5 285.5 C227.4 284.3 226.6 283.2 225.4 281.7 C224.2 280.2 222.8 277.8 221.4 276.4 C220.0 275.0 218.6 274.0 217.0 273.4 C215.4 272.8 213.5 273.3 212.0 273.0 C210.5 272.7 209.1 272.6 208.0 271.7 C206.9 270.8 206.3 268.6 205.5 267.5 C204.7 266.4 204.1 265.6 203.0 264.8 C201.9 264.1 200.2 263.5 199.0 263.0 C197.8 262.5 197.1 263.0 196.0 261.7 C194.9 260.4 193.6 257.0 192.5 255.0 C191.4 253.0 190.0 250.6 189.5 249.7" stroke-width="1.15" fill="none" />
<path d="M269.2 302.1L267.5 307.3 M265.4 300.7L263.4 306.6 M261.8 298.4L259.8 304.4 M247.3 290.0L245.5 295.5 M243.7 287.3L241.9 292.6 M240.0 284.7L238.3 289.9 M236.6 281.7L234.5 287.8 M233.4 279.3L231.4 285.1 M230.2 276.8L228.4 282.1 M227.0 273.5L225.1 279.1 M223.4 271.1L222.0 275.4 M209.6 262.4L207.9 267.6 M206.7 259.5L204.8 264.9 M202.9 256.8L200.9 262.9 M199.4 254.9L197.4 260.8 M196.6 252.1L194.8 257.2 M193.3 249.8L192.2 252.8" stroke-width="1.1" fill="none" stroke="#000"/>
<polygon points="275.55,300.47 191.41,242.67 189.99,244.73 273.85,302.93" fill="#000" stroke="#000" stroke-width="0.3"/>
<path d="M248.9 305.0 L251.4 292.0 Q253.7 288.8 256.0 292.0 L258.5 305.0 Z" stroke-width="1.3" fill="#000" />
<ellipse cx="253.7" cy="293.2" rx="1.15" ry="1.35" fill="#fff" stroke="none"/>
<path d="M252.5 299.0L252.1 302.6 M254.9 299.0L255.3 302.6" stroke="#fff" stroke-width="1.0"/>
<path d="M251.5 297.7L255.9 297.7" stroke="#fff" stroke-width="0.5" stroke-opacity="0.7"/>
<path d="M211.4 273.0 L213.6 263.0 Q215.7 259.8 217.8 263.0 L220.0 273.0 Z" stroke-width="1.3" fill="#000" />
<ellipse cx="215.7" cy="264.2" rx="1.15" ry="1.35" fill="#fff" stroke="none"/>
<path d="M214.5 267.0L214.1 270.6 M216.9 267.0L217.3 270.6" stroke="#fff" stroke-width="1.0"/>
<path d="M213.5 265.7L217.9 265.7" stroke="#fff" stroke-width="0.5" stroke-opacity="0.7"/>
<path d="M27.6 122 L22.5 118.6 Q18.5 120.6 17 118 Q17.3 115.2 20.6 115.8 Q22 117 20.3 118.2" stroke-width="1.5" fill="none" />
<line x1="26.8" y1="116.5" x2="26.8" y2="120.5" stroke-width="1.6" />
<path d="M272 116.7 L274.5 113.8 L277.6 114.6 M274.5 113.8 L274.2 111.2" stroke-width="1.5" fill="none" />
<path d="M274.2 111.2 L278.2 113.6 L275.6 114.6 Z" stroke-width="0.8" fill="#000" />
<ellipse cx="21.8" cy="306" rx="2.1" ry="3" fill="#000" stroke="none" transform="rotate(25 21.8 306)"/>
<path d="M274.7 301.7 L278.6 304.3" stroke-width="1.6" fill="none" />
<ellipse cx="279" cy="304.6" rx="1.6" ry="2.1" fill="#000" stroke="none"/>
<path d="M273.4 303 L273.8 309" stroke-width="2.2" fill="none" />
<line x1="110.5" y1="183.4" x2="187.0" y2="237.5" stroke-width="1.7" stroke-dasharray="4.6 2.6" stroke-linecap="butt"/>
<line x1="110.5" y1="192.3" x2="187.0" y2="247.5" stroke-width="1.7" stroke-dasharray="4.6 2.6" stroke-linecap="butt"/>
<line x1="187.0" y1="180.7" x2="110.5" y2="237.0" stroke-width="1.7" stroke-dasharray="4.6 2.6" stroke-linecap="butt"/>
<line x1="187.0" y1="192.7" x2="110.5" y2="245.5" stroke-width="1.7" stroke-dasharray="4.6 2.6" stroke-linecap="butt"/>
<path d="M110.7 175.0 L110.7 165.0 L120.7 165.0 L120.7 174.7 L157.4 174.7 L163.4 191.4" stroke-width="1.5" fill="none" />
<path d="M171.4 190.0 L176.8 174.7 L190.7 174.7" stroke-width="1.5" fill="none" />
<path d="M125.4 228.4 L121.4 246.4 L110.0 246.4" stroke-width="1.4" fill="none" />
<path d="M134.0 229.0 L138.7 246.4 L153.4 246.4" stroke-width="1.4" fill="none" />
<path d="M166.8 246.4 L177.4 246.4 L177.4 255.7 L186.6 255.7 L186.6 247.0" stroke-width="1.4" fill="none" />
<path d="M167 238.6 L169.6 238.2 L168 241" stroke-width="0.8" fill="none" />
<rect x="107.1" y="174.5" width="3.8" height="72.5" fill="#000" stroke="none"/>
<line x1="109.0" y1="176.0" x2="109.0" y2="246.0" stroke="#fff" stroke-width="1.5" stroke-dasharray="2.5 2.7" stroke-dashoffset="0" stroke-linecap="butt"/>
<rect x="144.0" y="174.5" width="8.8" height="72.5" fill="#000" stroke="none"/>
<line x1="146.5" y1="176.0" x2="146.5" y2="246.0" stroke="#fff" stroke-width="2.0" stroke-dasharray="3.2 2.0" stroke-linecap="butt"/>
<line x1="150.3" y1="176.0" x2="150.3" y2="246.0" stroke="#fff" stroke-width="2.0" stroke-dasharray="2.9 2.3" stroke-dashoffset="1.5" stroke-linecap="butt"/>
<rect x="187.2" y="174.5" width="4.8" height="73.0" fill="#000" stroke="none"/>
<line x1="189.6" y1="176.0" x2="189.6" y2="246.5" stroke="#fff" stroke-width="1.5" stroke-dasharray="2.5 2.7" stroke-dashoffset="1" stroke-linecap="butt"/>
<rect x="129.7" y="156.6" width="18.8" height="14.8" stroke-width="1.5" fill="#fff"/>
<text x="130.7" y="167.2" font-size="9.6" letter-spacing="0" font-weight="normal" text-anchor="start" textLength="16.8" lengthAdjust="spacingAndGlyphs" style="stroke:#000;stroke-width:0.35px">float</text>
<path d="M168.6 252 L168.6 265.4 L150 265.4 L150 251.4 L155 251.4" stroke-width="1.5" fill="none" />
<text x="151.0" y="262.6" font-size="9.6" letter-spacing="0" font-weight="normal" text-anchor="start" textLength="16.4" lengthAdjust="spacingAndGlyphs" style="stroke:#000;stroke-width:0.35px">float</text>
<text x="140.6" y="34.2" font-size="7.9" textLength="22.4" lengthAdjust="spacing" style="stroke:#000;stroke-width:0.3px">flow</text>
<line x1="148.0" y1="37.3" x2="148.0" y2="64.6" stroke-width="1.8" />
<path d="M144.2 60.6 L148 65.4 L152 60.6" stroke-width="1.9" fill="none" />
<text x="34.8" y="112.3" font-size="7.9" textLength="34.0" lengthAdjust="spacing" style="stroke:#000;stroke-width:0.3px">anchor</text>
<line x1="33.3" y1="112.2" x2="28.6" y2="115.6" stroke-width="1.0" />
<text x="91.5" y="148.0" font-size="7.9" textLength="64.0" lengthAdjust="spacing" style="stroke:#000;stroke-width:0.3px">smolt fence</text>
<path d="M90.0 145.8L72.3 150.8M75.1 148.0L72.3 150.8L76.1 151.7" stroke-width="1.0" fill="none"/>
<path d="M157.5 146.3L217.5 155.0M213.9 156.4L217.5 155.0L214.4 152.6" stroke-width="1.0" fill="none"/>
<text x="185.0" y="138.6" font-size="7.9" textLength="27.6" lengthAdjust="spacing" style="stroke:#000;stroke-width:0.3px">cable</text>
<path d="M215.2 136.6L244.6 137.8M241.1 139.6L244.6 137.8L241.3 135.8" stroke-width="1.0" fill="none"/>
<text x="38.7" y="188.0" font-size="7.9" textLength="24.3" lengthAdjust="spacing" style="stroke:#000;stroke-width:0.3px">piers</text>
<path d="M44.5 174.5L44.5 153.0M46.4 156.4L44.5 153.0L42.6 156.4" stroke-width="1.0" fill="none"/>
<path d="M66.0 184.3L76.5 180.0M74.1 183.0L76.5 180.0L72.6 179.5" stroke-width="1.0" fill="none"/>
<text x="111.7" y="184.0" font-size="7.9" textLength="31.9" lengthAdjust="spacing" style="stroke:#000;stroke-width:0.3px">salmon</text>
<text x="111.7" y="211.2" font-size="7.9" textLength="17.3" lengthAdjust="spacing" style="stroke:#000;stroke-width:0.3px">trap</text>
<text x="159.5" y="215.5" font-size="7.9" textLength="24.5" lengthAdjust="spacing" style="stroke:#000;stroke-width:0.3px">smolt</text>
<path d="M158.5 215.6L152.8 215.6M156.2 213.7L152.8 215.6L156.2 217.5" stroke-width="1.0" fill="none"/>
<text x="201.0" y="212.0" font-size="7.9" textLength="21.6" lengthAdjust="spacing" style="stroke:#000;stroke-width:0.3px">rock</text>
<text x="201.0" y="229.0" font-size="7.9" textLength="34.6" lengthAdjust="spacing" style="stroke:#000;stroke-width:0.3px">ballast</text>
<path d="M203.0 216.2L192.6 216.2M196.0 214.3L192.6 216.2L196.0 218.1" stroke-width="1.0" fill="none"/>
<path d="M227.3 213.2L250.6 151.6M251.2 155.5L250.6 151.6L247.6 154.1" stroke-width="1.0" fill="none"/>
<text x="101.5" y="293.3" font-size="7.9" textLength="69.9" lengthAdjust="spacing" style="stroke:#000;stroke-width:0.3px">salmon fence</text>
<path d="M98.5 289.6L73.5 285.4M77.2 284.1L73.5 285.4L76.5 287.8" stroke-width="1.0" fill="none"/>
<path d="M174.5 290.0L222.5 284.5M219.3 286.8L222.5 284.5L218.9 283.0" stroke-width="1.0" fill="none"/>
<text x="151.0" y="418.0" font-size="27" letter-spacing="0" font-weight="normal" text-anchor="middle" >a</text>
</g>
<g id="persp">
<path d="M407.8 29.8l5.2 -0.3 M427.1 30.5l2.1 -0.3 M460.7 35.5l5.6 -1.0 M382.4 31.4l4.2 -0.5 M307.2 21.2l3.1 -0.2 M431.3 36.6l5.2 -0.9 M406.9 34.4l2.0 -0.1 M339.6 26.8l5.9 -0.4 M352.7 23.3l4.2 -0.4 M338.8 21.2l4.8 -0.2 M452.5 37.4l3.4 -0.6 M329.0 26.3l3.2 -0.3 M305.6 17.5l3.4 -0.5 M440.1 35.0l3.3 -0.4 M421.3 36.4l5.9 -1.2 M428.7 31.2l2.1 -0.2 M365.4 27.8l2.0 -0.4 M334.9 20.5l2.8 -0.2 M458.4 33.1l3.4 -0.5 M391.6 28.1l2.4 -0.2 M436.5 31.9l2.1 -0.1 M320.0 22.7l4.4 -0.2" stroke-width="0.75" fill="none" stroke="#111"/>
<path d="M342.3 65.1l3.7 -1.1 M338.9 53.1l1.8 -0.6 M394.0 76.7l2.1 -0.8 M438.0 71.4l3.1 -1.0 M379.9 72.1l3.3 -1.0 M300.2 63.4l1.6 -0.5 M416.1 63.9l4.4 -0.9 M385.3 72.0l1.9 -0.6 M314.1 56.1l2.7 -0.8 M439.9 77.6l5.4 -1.6 M364.2 66.3l3.4 -1.1 M351.8 54.7l3.0 -0.6 M434.1 73.8l3.5 -1.1 M305.2 47.4l4.6 -1.0 M345.5 63.6l4.6 -1.1 M390.3 72.0l3.0 -0.7 M333.6 56.1l4.6 -1.1 M335.5 63.5l4.1 -1.1 M293.7 58.4l2.5 -0.6 M360.5 66.8l4.1 -1.0 M343.5 61.0l4.5 -1.0 M343.8 64.1l5.0 -1.2 M436.5 80.4l3.6 -1.0 M316.6 56.5l5.2 -1.5 M394.3 71.7l4.4 -1.5 M407.5 71.1l4.2 -1.2 M384.3 71.7l4.0 -1.0 M296.1 53.6l3.3 -0.8 M324.4 56.3l4.0 -1.4 M361.8 57.4l1.7 -0.6 M339.0 53.2l2.3 -0.8 M360.9 59.8l3.9 -1.0 M327.2 60.2l1.5 -0.4 M333.2 54.9l2.0 -0.4 M347.3 52.3l4.0 -1.4 M372.7 61.9l3.8 -0.8 M413.1 69.0l4.8 -1.2 M346.7 53.8l3.9 -1.0 M433.7 80.8l3.9 -1.2 M424.2 61.7l1.9 -0.5 M383.0 60.5l4.0 -0.9 M347.6 58.5l2.4 -0.8" stroke-width="0.75" fill="none" stroke="#111"/>
<path d="M448.5 73.4l7.8 -1.8 M427.8 69.8l7.9 -2.4 M417.9 71.6l7.9 -2.4 M410.8 76.3l3.6 -1.0 M419.4 70.8l6.9 -1.7 M395.7 78.0l4.4 -1.0 M438.0 69.4l4.3 -1.5 M449.4 70.8l6.0 -1.8 M430.5 80.1l6.7 -2.4 M436.8 71.0l5.7 -1.8 M411.3 77.9l5.3 -1.7 M436.0 79.7l3.2 -1.1 M420.1 89.5l7.4 -2.2 M395.8 85.4l5.1 -1.5" stroke-width="0.75" fill="none" stroke="#111"/>
<path d="M560.2 72.1l9.3 -2.2 M532.8 79.7l12.7 -4.4 M525.2 90.4l5.6 -1.4 M559.0 69.2l7.6 -1.9 M577.4 56.5l9.3 -2.7 M542.3 74.6l6.4 -1.8 M569.0 58.8l7.1 -1.8 M567.3 69.7l5.2 -1.4 M583.2 68.6l11.3 -4.2 M571.6 60.3l10.8 -2.5 M560.6 63.5l7.6 -1.8 M512.7 92.0l8.7 -3.1 M552.9 65.2l6.0 -1.9 M506.1 85.4l10.2 -2.7 M574.7 57.5l8.9 -2.9 M551.0 73.6l13.4 -4.3 M504.7 96.9l6.4 -1.8 M543.0 84.2l10.0 -2.8 M522.4 86.9l7.3 -1.9 M543.9 70.6l7.1 -2.3 M562.6 63.4l11.4 -3.1 M507.2 95.3l5.8 -2.1 M550.5 69.6l12.9 -3.9 M527.5 88.9l5.3 -1.4 M504.6 87.7l13.6 -3.7 M519.0 80.9l13.8 -3.8" stroke-width="0.8" fill="none" stroke="#111"/>
<path d="M491.0 82.8l7.1 -1.6 M461.8 86.7l7.1 -1.6 M469.3 82.7l8.2 -1.4 M490.2 88.7l8.3 -1.6 M479.6 91.5l7.7 -1.7 M454.8 80.7l5.0 -1.4 M494.5 89.6l7.8 -2.2 M473.5 97.8l7.1 -1.5 M473.3 82.0l4.8 -1.2 M468.7 87.7l8.4 -2.1 M462.7 85.5l4.8 -1.1 M461.8 89.6l4.2 -0.5" stroke-width="0.8" fill="none" stroke="#111"/>
<path d="M493.5 37.4l8.1 -1.0 M497.8 37.5l4.7 -0.6 M490.2 35.1l8.4 -1.7 M486.4 29.2l5.4 -1.2 M494.8 37.8l6.2 -1.1" stroke-width="0.8" fill="none" stroke="#111"/>
<path d="M362.5 60.5l3.0 -0.8 M315.3 54.3l2.8 -0.6 M390.1 68.6l3.5 -1.3 M299.4 61.9l2.2 -0.8 M375.0 83.9l2.4 -0.8 M304.5 50.2l3.4 -1.0 M435.0 59.0l1.8 -0.7 M351.6 53.3l1.8 -0.6 M337.4 52.1l1.3 -0.3 M317.8 60.1l2.2 -0.6 M303.1 54.4l1.5 -0.4 M432.8 81.5l3.3 -1.1 M292.7 56.7l2.4 -0.7 M348.4 67.9l2.9 -0.7 M337.7 61.7l3.2 -1.1 M307.9 54.9l1.4 -0.4 M417.0 67.8l1.5 -0.6 M328.0 52.2l2.2 -0.6 M328.0 51.7l2.9 -1.1 M321.0 55.9l2.1 -0.8 M355.2 60.5l3.0 -0.9 M428.9 83.2l3.0 -0.9 M358.5 75.0l2.8 -0.6 M402.8 80.2l1.8 -0.5 M349.3 55.0l1.4 -0.5 M330.7 65.9l1.9 -0.7 M408.4 75.9l1.3 -0.5 M310.2 56.0l3.3 -0.7 M384.9 61.3l2.2 -0.7 M341.2 51.4l2.6 -0.6 M402.7 58.2l2.5 -0.9 M400.0 70.5l3.5 -0.9 M308.3 55.1l3.4 -1.0 M357.3 64.3l3.0 -0.7 M372.6 82.7l2.6 -1.0 M416.2 71.8l1.3 -0.3 M295.1 57.7l2.4 -0.6 M350.9 57.4l1.9 -0.6 M377.2 64.5l3.0 -1.0 M344.5 57.6l3.6 -0.9 M421.7 80.4l2.2 -0.8 M418.9 74.9l1.3 -0.5 M305.3 62.0l3.4 -1.2 M413.5 67.8l2.8 -0.7 M386.6 80.4l2.1 -0.8 M369.3 70.4l1.6 -0.5" stroke-width="0.65" fill="none" stroke="#111"/>
<path d="M310.9 32.6l3.4 2.5 M321.7 45.1l4.9 -3.4 M321.4 38.0l4.9 3.7 M318.6 37.2l3.0 2.3 M304.4 36.1l4.7 -3.3 M310.6 31.9l4.6 3.4 M323.1 44.9l5.2 -3.6 M325.5 39.9l2.8 -1.9 M327.1 46.1l4.0 3.0 M302.1 45.5l4.4 -3.0 M327.5 36.8l2.4 -1.6 M317.5 34.6l5.2 3.9 M310.6 37.5l5.2 3.9 M319.7 32.7l2.2 -1.5 M325.2 41.7l3.5 2.6 M316.8 33.4l3.0 -2.1 M329.1 31.3l2.4 -1.7 M318.9 32.0l4.1 -2.8 M321.3 30.4l3.7 -2.6 M328.8 44.6l4.3 -3.0 M308.4 40.9l3.7 2.8 M307.4 28.4l2.5 -1.8 M304.9 38.8l4.9 -3.4 M322.0 44.7l4.3 -2.9 M304.9 27.5l2.7 2.1 M314.8 39.9l2.3 1.7 M317.2 30.6l4.1 3.1 M321.1 44.6l5.4 4.1 M323.3 34.5l2.4 1.8 M311.9 42.5l3.4 2.5 M316.0 40.9l4.1 3.1 M311.4 36.0l2.2 1.6 M308.7 28.3l3.0 2.2 M315.4 36.9l3.4 -2.3 M304.6 40.0l2.0 -1.4 M312.1 31.8l3.6 2.7 M316.5 32.0l5.5 4.1 M315.2 32.7l5.4 -3.7 M316.2 34.7l4.8 3.6 M318.6 39.1l4.3 3.2 M302.7 33.1l5.1 -3.5 M327.6 46.7l4.7 -3.2 M306.2 33.7l5.5 -3.8 M308.1 31.5l3.7 2.8 M320.7 32.0l3.6 2.7 M312.7 42.0l2.7 2.0 M325.2 39.7l2.5 1.9 M327.8 31.0l2.7 2.0 M309.5 33.4l4.8 3.6 M316.5 39.6l2.3 1.7 M320.0 35.0l3.7 -2.6 M329.0 40.0l2.9 -2.0 M322.5 37.3l4.5 3.4 M323.6 37.9l4.2 -2.9 M303.6 26.8l3.4 2.5 M302.6 44.7l4.4 -3.0 M312.4 39.2l5.4 -3.7 M329.7 33.6l5.4 4.0 M314.6 36.5l3.4 -2.3 M310.4 40.9l2.5 1.9 M315.8 31.7l3.6 2.7 M304.5 28.8l5.5 4.1 M309.7 39.4l2.9 -2.0 M319.5 39.0l2.9 2.2 M326.5 44.8l2.6 2.0 M303.5 35.7l2.0 1.5 M325.1 44.0l2.1 -1.5 M305.3 36.7l4.2 3.2 M328.6 31.7l4.5 3.3 M303.9 37.2l5.2 -3.6 M303.9 40.5l2.4 -1.7 M309.2 27.3l4.7 -3.3 M327.3 33.0l2.8 2.1 M328.5 32.1l3.3 2.5 M313.9 38.4l2.6 2.0 M315.8 35.5l4.1 -2.8 M306.1 34.9l3.9 -2.7 M317.5 35.4l4.8 -3.3 M310.2 31.6l3.3 -2.3 M309.4 37.7l5.4 4.1 M323.6 31.5l4.3 -2.9 M318.3 44.2l3.4 -2.3 M322.3 36.1l3.2 2.4 M303.8 33.2l5.1 3.8 M310.4 42.7l4.8 -3.3 M316.2 35.1l2.8 2.1 M317.8 30.5l3.8 -2.6 M328.5 32.3l4.8 3.6 M317.0 44.2l4.0 3.0 M309.6 43.1l3.5 2.7 M316.4 34.6l4.3 -2.9 M311.1 36.1l2.5 1.9 M328.3 37.8l5.3 -3.6 M316.0 40.2l2.9 2.2 M323.2 31.9l2.7 -1.9 M322.4 45.4l2.5 1.9 M304.5 36.8l5.1 3.8 M321.6 38.7l2.9 2.2 M303.5 28.2l4.8 3.6 M318.6 36.7l5.1 -3.5 M309.9 41.6l2.5 1.9 M313.6 30.1l4.4 -3.0 M322.4 44.6l3.1 -2.1 M320.5 42.5l4.4 3.3 M322.5 40.9l4.2 -2.9 M306.5 26.7l4.8 -3.3 M325.4 38.7l3.7 2.8 M307.7 41.0l2.9 -2.0 M320.2 39.4l2.8 2.1 M302.3 44.3l4.7 -3.2 M314.2 39.8l3.3 -2.3 M323.2 40.7l2.2 1.7 M325.5 31.1l2.1 -1.4 M305.0 33.8l4.9 3.7 M316.6 41.1l4.8 -3.3 M325.4 41.6l5.1 -3.5 M302.6 43.1l2.7 2.0 M311.5 33.6l2.3 1.7 M302.1 45.1l4.6 3.5 M306.6 41.6l4.5 3.4 M313.3 34.5l2.1 1.6 M323.5 43.5l4.5 -3.1 M326.4 43.0l3.5 -2.4 M320.4 40.6l3.6 2.7 M311.2 38.6l4.8 3.6 M316.9 34.4l2.3 -1.6 M312.1 32.4l2.0 1.5 M313.9 28.2l4.0 -2.7 M325.4 44.9l2.3 1.7 M302.2 44.2l4.7 3.5 M324.5 44.6l4.2 -2.9 M306.8 34.1l5.0 3.7 M310.3 28.6l3.9 2.9 M320.6 30.8l4.6 3.5 M311.0 40.1l3.1 -2.1 M305.5 27.9l4.3 -3.0 M319.8 37.3l3.7 2.8 M306.2 34.2l2.3 -1.6 M308.8 28.6l3.1 -2.1 M310.2 33.0l5.4 4.1 M311.6 38.6l3.7 2.7 M326.1 41.3l3.6 -2.5 M303.6 31.0l3.0 -2.0 M316.1 36.5l5.0 -3.5 M314.6 37.9l3.5 2.6 M305.7 41.3l3.1 2.3 M318.9 31.8l3.6 -2.5 M303.2 38.9l5.3 3.9 M304.3 31.1l4.4 3.3 M314.8 33.5l4.5 -3.1 M325.9 40.2l5.1 3.8 M315.3 38.2l2.4 -1.7 M312.4 42.9l5.4 4.0 M326.0 32.3l4.7 -3.2 M314.8 31.0l3.5 -2.4 M313.3 37.8l3.6 -2.5 M314.7 28.8l4.9 -3.4 M308.8 36.7l3.8 -2.6 M323.8 35.3l4.2 3.2 M328.2 38.7l3.0 -2.1 M303.3 42.9l4.8 3.6 M314.8 30.2l2.7 -1.8 M310.7 28.6l2.4 -1.6 M322.7 42.9l4.8 3.6 M306.7 27.9l2.6 -1.8 M315.7 33.2l5.1 -3.5 M322.4 44.1l4.0 3.0 M318.0 29.4l2.9 2.2 M305.4 30.7l3.3 -2.3 M315.6 40.1l4.1 3.1 M313.0 38.0l5.1 -3.5 M310.3 27.6l4.1 3.1 M302.2 45.3l2.7 -1.9 M318.4 40.4l2.7 -1.9 M305.3 38.3l4.6 3.5 M326.4 41.4l2.3 1.7 M315.0 29.8l4.7 3.5 M315.3 41.5l3.1 -2.1 M319.0 33.9l3.0 2.3 M318.8 31.1l3.6 -2.5 M307.5 42.2l2.1 1.6 M310.3 31.8l2.6 1.9 M327.5 36.2l4.5 -3.1 M302.6 45.2l5.2 3.9 M309.2 35.1l2.5 -1.7 M322.2 38.1l4.8 -3.3 M319.2 37.0l4.4 3.3 M321.2 39.2l4.2 -2.9 M327.9 42.1l4.5 3.4 M319.2 30.0l4.7 3.5 M315.8 39.8l4.8 3.6 M328.3 39.8l5.6 4.2 M322.0 30.9l4.8 -3.3 M317.1 42.2l2.5 1.9 M319.2 44.2l4.9 -3.4 M303.8 41.7l5.4 -3.7 M311.3 36.2l4.4 -3.0 M326.2 45.9l3.8 2.8 M320.4 30.1l5.5 4.1 M316.0 31.5l5.3 4.0 M310.4 31.3l4.4 -3.0 M327.1 35.7l2.9 2.2 M302.0 45.6l3.1 -2.2 M328.4 34.7l3.1 -2.1 M315.4 36.6l3.0 2.2 M324.0 36.9l4.8 -3.3 M326.5 45.5l2.2 -1.5 M313.9 32.2l5.6 -3.8 M322.6 29.8l3.1 2.3 M327.5 32.9l5.6 -3.8 M310.5 34.4l3.9 2.9 M310.7 35.2l3.1 -2.1 M308.8 28.9l2.9 -2.0 M319.4 39.7l4.4 -3.0 M312.3 28.3l2.4 1.8 M302.3 45.0l2.8 2.1 M315.8 41.8l3.7 2.8 M304.4 36.1l3.0 -2.1 M303.3 42.0l4.4 3.3 M313.9 37.5l2.8 2.1 M303.8 29.3l3.6 -2.5 M327.2 43.1l2.5 -1.7 M326.2 44.5l3.1 -2.1 M311.0 41.1l5.4 -3.7 M304.1 37.3l5.3 -3.6 M303.1 32.0l2.6 2.0 M316.5 32.8l3.5 -2.4 M318.7 43.7l2.1 -1.5 M304.7 38.8l4.7 -3.2 M315.3 35.1l2.7 2.0 M305.2 42.4l5.4 4.1 M313.5 40.4l3.8 2.8 M326.8 31.1l3.7 2.7 M319.9 33.9l3.1 -2.1 M316.1 39.2l3.7 -2.5 M314.3 42.8l4.2 -2.9 M324.1 33.0l3.5 2.6 M302.6 45.0l2.9 2.2 M302.6 32.1l3.6 -2.5 M327.4 34.0l5.6 4.2 M318.3 33.4l5.2 -3.6 M321.9 42.7l3.0 -2.1 M322.6 33.9l3.2 -2.2 M320.4 38.2l4.4 3.3 M304.1 36.1l4.2 -2.9 M319.4 44.7l3.8 2.8 M315.2 40.3l4.1 3.1 M328.8 42.9l4.0 -2.7 M318.1 30.9l4.6 3.5 M305.6 39.1l4.7 3.6 M305.7 30.2l4.4 -3.0 M309.7 36.9l4.8 -3.3 M329.6 42.8l3.6 -2.5 M310.5 36.3l4.2 -2.9 M318.9 39.3l4.3 3.2 M309.5 33.6l2.1 1.6 M312.1 38.3l3.8 -2.6 M311.1 39.7l4.4 3.3 M326.9 39.0l5.1 -3.5 M307.4 35.7l5.4 4.0" stroke-width="0.6" fill="none" stroke="#000"/>
<path d="M404.4 58.7l3.2 2.4 M335.8 33.0l5.1 3.8 M363.9 42.4l5.5 4.2 M406.4 53.8l5.3 -3.6 M347.9 50.3l4.1 3.1 M345.7 34.2l2.0 1.5 M352.7 35.8l4.0 -2.8 M360.3 44.7l4.8 -3.3 M401.0 54.9l2.3 1.8 M409.0 41.8l4.8 -3.3 M379.7 44.3l5.4 4.0 M444.2 45.9l4.6 3.5 M380.2 42.6l4.1 3.1 M348.1 41.2l5.2 3.9 M436.4 48.3l2.4 1.8 M444.6 55.4l5.5 -3.8 M343.4 35.9l2.9 2.2 M341.1 41.8l3.0 2.3 M338.1 39.8l2.3 -1.6 M378.9 42.2l4.7 3.5 M432.2 49.8l2.1 1.6 M373.0 47.6l2.0 1.5 M407.5 51.4l5.6 -3.8 M378.4 55.5l4.0 -2.7 M359.1 43.9l5.4 -3.7 M325.5 35.6l5.0 -3.4 M352.6 38.8l2.5 1.8 M414.6 43.5l4.2 3.2 M425.8 58.3l4.6 -3.2 M354.0 41.2l3.4 -2.3 M400.1 42.8l4.1 -2.8 M349.6 40.5l3.7 2.7 M437.5 47.2l3.2 -2.2 M340.4 33.7l4.4 -3.0 M434.1 49.0l4.0 -2.8 M342.4 41.6l2.7 2.0 M426.2 47.7l2.9 -2.0 M390.2 47.1l3.5 -2.4 M431.6 51.8l4.0 -2.8 M350.9 50.2l2.5 -1.7 M353.0 42.3l2.9 2.1 M441.6 45.0l4.7 3.5 M444.7 53.5l3.4 -2.4 M404.2 47.8l4.5 3.4 M437.3 43.5l4.5 -3.1 M419.4 49.5l4.3 -2.9 M383.4 40.2l5.4 -3.7 M438.8 44.3l4.5 3.3 M378.8 52.1l4.8 -3.3 M374.6 44.3l3.7 2.8 M421.8 54.3l5.0 3.7 M329.0 37.0l3.7 -2.5 M429.2 58.3l2.9 -2.0 M369.8 51.1l4.1 3.1 M433.5 54.3l5.5 4.2 M389.1 43.4l3.9 -2.7 M408.6 53.1l4.2 3.2 M405.2 54.6l3.4 -2.3 M357.7 40.9l2.5 -1.7 M446.4 46.6l5.2 -3.6 M351.0 42.8l2.5 1.9 M370.5 39.1l4.2 3.1 M405.1 54.2l3.2 -2.2 M373.8 50.9l4.5 -3.1 M363.5 42.4l5.5 4.1 M355.8 42.6l5.1 3.9 M333.2 37.1l4.6 3.5 M402.0 45.9l3.5 2.6 M440.9 44.3l2.7 -1.9 M384.5 52.3l2.5 -1.7 M345.6 46.4l4.9 3.7 M368.9 41.7l3.6 -2.5 M351.1 41.8l2.6 -1.8 M382.4 56.3l2.5 1.8 M428.8 56.3l5.6 -3.8 M387.6 44.1l5.3 -3.7 M324.1 45.7l4.3 3.2 M377.9 49.0l3.8 -2.6 M412.1 43.8l3.8 2.8 M425.9 41.7l2.6 -1.8 M410.1 51.6l2.6 -1.8 M391.5 38.0l3.0 2.2 M329.2 46.4l4.5 -3.1 M400.6 46.4l5.5 -3.8 M401.6 52.5l3.0 -2.1 M391.0 39.0l5.3 -3.6 M416.7 54.9l2.4 -1.7 M363.9 41.1l2.3 1.7 M350.2 39.8l2.4 1.8 M443.7 56.5l3.5 2.6 M374.5 37.8l4.0 3.0 M357.9 49.8l2.6 2.0 M440.3 44.6l2.9 -2.0 M363.8 52.3l4.2 3.2 M381.1 46.7l4.2 -2.9 M407.5 55.5l3.8 2.9 M405.1 43.3l3.4 2.5 M324.1 45.2l3.8 2.9 M378.0 46.8l3.5 -2.4 M355.0 42.2l4.5 3.4 M401.1 48.3l3.8 2.8 M336.0 44.9l4.9 -3.4 M344.9 35.7l4.9 3.6 M360.2 51.2l2.8 2.1 M395.5 39.0l4.1 -2.8 M390.4 53.6l5.0 -3.4 M362.0 43.9l2.1 -1.4 M380.9 53.7l4.6 -3.2 M362.3 46.9l2.8 -1.9 M380.0 41.1l5.0 3.7 M385.9 46.7l2.9 -2.0 M436.9 42.9l3.7 2.8 M375.7 41.5l4.8 -3.3 M437.1 49.0l4.2 -2.9 M374.3 44.1l4.0 -2.8 M425.9 51.1l5.0 -3.4 M370.8 50.0l3.1 2.3 M351.9 45.5l5.4 -3.7 M337.6 49.1l3.2 2.4 M334.4 44.0l3.5 -2.4 M426.1 47.2l2.9 2.2 M323.7 35.3l3.6 -2.5 M445.1 45.0l5.3 3.9 M388.4 55.4l5.4 -3.7 M331.9 42.9l4.0 3.0 M370.4 43.9l5.0 3.7 M379.2 51.1l3.5 2.6 M418.2 42.1l4.3 -3.0 M326.7 44.6l3.8 2.9 M336.5 42.0l5.3 -3.6 M443.0 43.9l3.2 2.4 M327.2 45.2l5.2 3.9 M341.2 36.6l2.8 2.1 M329.0 32.9l4.8 -3.3 M431.1 44.4l4.6 3.4 M418.4 58.6l3.0 -2.1 M382.9 47.1l3.5 2.7 M389.4 51.6l3.2 -2.2 M345.2 37.5l4.8 3.6 M357.0 40.3l3.9 3.0 M359.4 42.4l5.0 -3.5 M434.6 48.2l3.8 2.9 M357.0 38.0l5.4 -3.7 M398.8 55.1l4.3 -2.9 M431.5 47.0l4.1 3.0 M408.7 43.5l2.4 1.8 M362.0 51.3l2.9 -2.0 M392.1 49.1l4.9 -3.3 M376.9 52.9l2.8 2.1 M348.9 42.7l3.1 -2.1 M372.4 54.6l2.5 1.9 M323.7 30.3l2.6 -1.8 M352.3 38.1l2.0 1.5 M378.0 37.9l4.3 3.2 M342.9 45.4l3.2 -2.2 M343.9 33.9l5.3 -3.7 M393.1 45.9l4.7 -3.2 M410.1 47.6l4.6 3.5 M363.4 39.6l5.1 3.8 M413.6 58.6l3.7 -2.5 M333.5 45.1l3.0 2.3 M416.8 46.9l5.3 4.0 M424.1 54.8l4.7 -3.2 M344.0 49.2l4.8 -3.3 M431.1 44.2l4.2 3.2 M362.5 44.5l4.3 -3.0 M440.5 58.1l3.2 2.4 M424.9 53.2l5.4 4.0 M391.9 53.6l3.6 2.7 M401.5 39.0l5.6 4.2 M439.1 48.9l4.7 -3.2 M390.2 42.9l4.8 3.6 M332.1 32.0l5.1 3.9 M379.3 46.6l4.2 3.2 M339.0 35.7l2.4 1.8 M393.5 55.4l2.4 -1.7 M405.4 43.9l2.5 -1.7 M357.3 47.9l2.1 -1.5 M444.3 51.6l3.2 -2.2 M348.2 42.5l3.6 -2.5 M387.9 52.4l2.1 -1.5 M426.0 50.0l2.1 -1.5 M443.6 57.8l3.7 -2.5 M378.4 37.7l5.4 4.1 M393.8 41.5l3.3 2.4 M321.2 35.5l4.6 -3.2 M352.5 46.4l4.8 3.6 M362.2 41.3l5.3 4.0 M409.9 57.6l5.5 -3.8 M444.9 44.1l4.4 -3.0 M403.8 41.8l3.8 2.9 M414.0 52.6l4.2 -2.9 M326.9 32.9l4.7 3.5 M425.2 53.7l5.4 -3.7 M413.0 50.9l3.9 2.9 M344.9 40.5l3.6 -2.5 M369.0 51.0l5.0 3.7 M397.2 49.8l2.3 1.7 M419.5 52.9l3.6 -2.5 M353.9 51.2l5.2 3.9 M376.3 48.5l4.2 -2.9 M353.0 39.7l3.9 -2.6 M344.0 43.1l4.1 -2.8 M384.3 52.9l4.9 3.6 M423.3 54.5l4.2 3.2 M331.4 41.5l3.9 -2.7 M341.8 38.1l2.2 1.6 M334.1 32.2l5.5 4.1 M416.2 50.6l2.9 -2.0 M402.9 50.1l3.6 -2.5 M338.0 44.3l2.7 -1.8 M415.5 46.2l4.5 -3.1 M446.8 55.0l4.1 3.1 M350.5 34.8l3.5 2.7 M345.9 35.8l2.7 2.0 M443.9 52.3l3.9 -2.7 M430.7 58.0l3.2 -2.2 M350.0 46.9l4.1 3.0 M346.3 48.0l3.7 2.8 M396.4 46.0l4.6 3.4 M342.7 46.2l5.1 -3.5 M415.4 52.1l2.6 2.0 M370.6 44.6l5.2 -3.5 M367.5 40.1l5.4 4.0 M435.8 44.9l5.5 4.2 M406.2 41.9l4.8 -3.3 M433.3 53.7l2.6 -1.8 M361.6 36.3l3.1 -2.2 M380.2 44.7l2.1 -1.4 M365.1 42.6l4.4 -3.0 M372.8 48.4l4.2 3.1 M443.2 50.9l2.1 1.6 M344.7 36.3l2.4 -1.6 M394.6 49.2l3.0 -2.1 M413.4 40.4l2.0 1.5 M412.2 48.9l3.9 2.9 M409.1 42.3l2.5 1.9 M369.5 40.2l2.3 1.7 M355.7 44.2l2.8 -2.0 M343.9 40.8l5.2 -3.6 M352.1 40.1l4.4 3.3 M324.9 35.2l3.2 -2.2 M382.9 53.8l4.6 3.4 M341.5 41.7l4.3 -3.0 M434.5 44.3l2.6 -1.8 M328.4 42.3l2.1 1.6 M350.6 48.9l4.9 3.7 M321.5 32.6l3.0 -2.1 M356.6 46.6l5.4 4.0 M394.9 40.6l2.4 1.8 M363.0 52.7l4.4 3.3 M375.9 46.8l2.4 -1.6 M410.5 51.4l5.3 -3.6 M413.2 59.2l5.4 4.1 M447.0 55.6l4.3 -3.0 M364.0 39.1l2.4 1.8 M445.3 45.6l5.2 3.9 M335.8 42.9l2.4 -1.6 M414.9 55.8l2.5 -1.7 M388.4 53.8l3.6 2.7 M408.7 50.7l2.8 2.1 M373.3 48.7l3.3 2.5 M418.8 52.4l4.6 -3.2 M323.3 40.0l4.8 -3.3 M445.1 49.3l5.4 4.1 M334.1 32.0l4.0 -2.8 M344.0 41.3l4.5 -3.1 M421.5 42.8l4.1 -2.8 M344.8 42.3l3.0 2.2 M356.3 48.3l5.5 -3.8 M385.0 38.0l4.6 -3.2 M363.9 37.7l5.4 4.0 M378.2 54.1l5.4 4.1 M386.4 51.5l4.2 -2.9 M322.2 45.0l2.1 -1.4 M367.8 41.7l5.5 4.1 M333.9 41.7l4.2 3.2 M395.6 56.4l2.8 -1.9 M389.3 56.4l3.6 2.7 M416.6 45.0l2.2 -1.5 M330.5 44.9l2.5 -1.7 M445.3 49.2l5.2 -3.6 M445.0 49.6l2.2 -1.5 M415.8 54.2l3.0 2.2 M340.1 40.7l4.6 -3.1 M414.7 55.7l4.6 3.5 M440.3 51.2l2.3 1.7 M428.0 46.4l2.7 2.0 M417.2 41.5l5.0 3.7 M341.5 39.1l3.9 2.9 M388.7 47.6l5.4 4.1 M373.2 45.1l3.2 -2.2 M438.5 50.0l5.5 4.1 M408.0 49.5l4.6 3.5 M328.4 46.7l3.6 -2.5 M385.2 50.6l4.8 -3.3 M407.1 44.4l5.2 -3.6 M383.7 44.2l2.9 -2.0 M346.9 43.9l3.8 2.8 M337.5 34.0l2.3 -1.6 M375.8 38.2l2.6 -1.8 M370.7 40.6l5.0 3.8 M358.9 48.1l5.1 3.8 M428.1 45.4l4.3 3.2 M393.2 51.2l2.4 -1.6 M353.9 47.1l2.6 2.0 M410.7 57.6l2.1 1.6 M383.4 40.5l3.6 2.7 M322.7 43.8l3.5 2.6 M442.0 45.7l3.3 2.5 M424.0 45.5l5.6 4.2 M395.5 52.3l2.0 -1.4 M435.5 48.5l4.5 3.4 M435.7 43.7l2.7 -1.9 M411.2 57.5l4.6 3.4 M363.6 46.8l4.1 -2.8 M375.5 46.4l3.4 -2.4 M331.2 32.6l2.4 1.8 M362.5 38.7l4.8 -3.3 M440.6 55.0l2.6 -1.8 M329.3 47.0l2.3 -1.5 M446.2 49.1l4.9 -3.3 M373.9 38.0l4.4 3.3 M411.8 40.4l3.6 2.7 M384.3 46.0l2.8 2.1 M397.5 47.8l3.5 2.7 M397.3 43.0l2.5 -1.7 M390.5 44.6l5.4 -3.7 M430.9 58.3l3.0 -2.1 M441.9 53.5l2.4 -1.7 M414.0 52.2l3.8 -2.6 M395.9 52.3l4.8 -3.3 M367.1 46.4l2.4 1.8 M338.6 34.2l4.8 -3.3 M337.4 45.6l2.1 -1.5 M436.5 56.3l2.7 -1.8 M408.9 48.5l2.8 2.1 M341.2 44.5l4.2 -2.9 M356.5 48.8l4.3 3.2 M356.3 40.4l4.5 3.3 M374.7 38.1l5.3 4.0 M329.6 37.5l2.1 1.6 M394.6 45.5l2.9 -2.0 M432.8 55.7l4.9 3.7 M382.4 54.4l2.9 2.2 M421.5 42.2l2.9 -2.0 M397.9 56.0l3.9 -2.7 M354.6 41.3l2.0 -1.4 M385.4 43.8l3.5 -2.4 M442.9 57.4l3.1 2.3 M382.2 53.9l2.7 2.0" stroke-width="0.5" fill="none" stroke="#000"/>
<path d="M470.9 45.4l3.7 2.8 M460.3 48.2l5.1 -3.5 M447.8 43.9l3.8 2.9 M459.6 53.4l3.8 2.9 M463.5 49.2l4.6 3.5 M456.4 47.4l2.3 1.7 M454.9 48.0l2.0 -1.4 M466.9 51.9l4.6 -3.2 M449.5 54.4l4.8 3.6 M467.1 50.4l5.5 4.1 M445.1 52.9l2.5 1.9 M468.3 49.9l3.6 2.7 M449.3 48.7l2.6 1.9 M441.5 54.2l4.1 -2.8 M456.7 51.5l4.3 3.2 M457.0 49.3l3.8 -2.6 M458.8 45.7l5.6 -3.8 M464.3 46.9l2.7 2.0 M470.1 50.9l2.2 -1.5 M470.1 45.3l5.4 -3.7 M469.0 50.2l4.1 -2.8 M449.7 51.7l3.2 2.4 M444.8 52.0l4.8 3.6 M447.6 45.8l4.9 -3.4 M442.7 53.2l2.9 2.1 M452.3 44.4l2.4 1.8 M452.2 53.8l5.5 4.1 M463.1 51.6l4.8 -3.3 M441.3 42.8l4.0 -2.7 M452.7 50.8l3.0 2.2 M446.5 44.6l2.9 2.1 M460.7 48.4l2.6 1.9 M468.8 45.4l4.3 -3.0 M445.2 49.5l5.5 4.1 M462.9 47.0l3.7 2.7 M450.3 45.6l5.6 -3.8 M450.6 49.5l3.7 2.8 M441.0 46.8l5.3 -3.7 M458.1 51.8l4.6 3.5 M466.9 50.2l4.7 3.5 M470.4 50.5l3.0 2.3 M461.7 47.0l4.0 3.0 M450.5 55.4l4.5 -3.1 M446.8 52.5l2.9 2.2 M461.7 50.2l2.4 -1.6 M467.9 46.3l5.2 -3.6 M454.7 46.6l2.1 1.6 M458.5 45.6l2.5 1.9 M448.1 53.6l3.3 -2.3 M451.6 46.1l2.7 2.1 M454.2 47.6l4.0 3.0 M470.8 47.3l4.0 3.0 M469.7 49.9l3.0 2.3 M441.3 47.8l3.0 -2.0 M443.8 51.1l3.9 -2.7 M445.4 54.3l5.6 4.2 M470.9 50.8l4.1 -2.8 M441.3 56.1l3.7 2.8 M464.0 46.2l4.7 -3.2 M455.9 50.5l2.9 2.2 M459.3 52.1l5.3 -3.6 M445.1 51.7l3.6 2.7 M440.6 48.7l2.4 -1.7 M447.7 53.2l2.9 -2.0 M462.4 49.3l2.9 2.2 M450.0 48.9l2.7 2.1 M470.7 50.3l5.2 3.9 M445.8 43.1l2.8 -1.9 M461.7 49.2l4.3 -3.0 M461.2 45.2l2.5 -1.7 M453.9 52.3l4.8 -3.3" stroke-width="0.5" fill="none" stroke="#000"/>
<path d="M302.6 25.8 L322.0 29.5 L322.0 40.0 L312.0 44.0 L303.0 42.0 Z" stroke-width="0.5" fill="#000" fill-opacity="0.15" stroke="none"/>
<path d="M302.6 25.5 C306.1 26.1 314.0 27.8 323.7 29.4 C333.4 31.0 348.6 33.9 360.8 35.3 C373.0 36.7 384.8 36.8 397.0 37.8 C409.2 38.8 421.5 40.4 434.0 41.6 C446.5 42.8 462.5 44.1 472.0 44.8 C481.5 45.4 487.8 45.4 491.0 45.5" stroke-width="1.7" fill="none" />
<line x1="322.9" y1="21.8" x2="328.3" y2="45.4" stroke-width="1.5" />
<line x1="325.2" y1="23.0" x2="312.0" y2="60.6" stroke-width="1.5" />
<line x1="324.0" y1="29.5" x2="322.0" y2="48.8" stroke-width="1.5" />
<line x1="312.0" y1="60.6" x2="326.0" y2="55.5" stroke-width="0.7" />
<line x1="358.3" y1="23.5" x2="365.2" y2="52.0" stroke-width="1.5" />
<line x1="362.2" y1="28.8" x2="349.9" y2="70.7" stroke-width="1.5" />
<line x1="361.0" y1="35.3" x2="360.0" y2="55.5" stroke-width="1.5" />
<line x1="396.5" y1="32.6" x2="402.8" y2="58.0" stroke-width="1.5" />
<line x1="398.5" y1="31.5" x2="386.7" y2="77.3" stroke-width="1.5" />
<line x1="397.3" y1="38.0" x2="396.0" y2="62.0" stroke-width="1.5" />
<line x1="432.6" y1="34.3" x2="439.9" y2="60.5" stroke-width="1.5" />
<line x1="435.5" y1="35.3" x2="424.7" y2="80.7" stroke-width="1.5" />
<line x1="434.3" y1="41.8" x2="433.5" y2="64.0" stroke-width="1.5" />
<line x1="415.4" y1="87.5" x2="447.5" y2="58.0" stroke-width="1.5" />
<path d="M471.6 37.5 L474 44.5 L475.8 38.2" stroke-width="1.2" fill="none" />
<line x1="474.0" y1="44.5" x2="474.0" y2="52.0" stroke-width="1.4" />
<ellipse cx="324.2" cy="30.8" rx="1.6" ry="3.2" fill="#000" stroke="none"/>
<ellipse cx="361.2" cy="36.6" rx="1.6" ry="3.2" fill="#000" stroke="none"/>
<ellipse cx="397.4" cy="39.2" rx="1.6" ry="3.2" fill="#000" stroke="none"/>
<ellipse cx="434.4" cy="43" rx="1.6" ry="3.2" fill="#000" stroke="none"/>
<path d="M447.6 57.0 L458.0 54.6 L468.7 52.0 L471.5 48.0 L472.5 45.3 L491.0 45.5 L499.0 43.4 L504.0 42.0 L517.0 37.7 L538.8 34.3 L574.2 35.4 L575.0 50.5 L494.0 86.6 L447.6 75.6 Z" stroke-width="1" fill="#000" />
<line x1="508.0" y1="41.0" x2="507.8" y2="37.8" stroke-width="1.1" />
<line x1="515.5" y1="38.7" x2="515.3" y2="35.5" stroke-width="1.1" />
<line x1="523.0" y1="36.4" x2="522.8" y2="33.2" stroke-width="1.1" />
<line x1="530.5" y1="34.4" x2="530.3" y2="31.2" stroke-width="1.1" />
<line x1="538.0" y1="34.4" x2="537.8" y2="31.2" stroke-width="1.1" />
<line x1="499.5" y1="43.0" x2="499.3" y2="39.8" stroke-width="1.1" />
<line x1="574.2" y1="35.4" x2="573.8" y2="31.5" stroke-width="1.2" />
<path d="M570 33.2 L579 32.4" stroke-width="1.0" fill="none" />
<path d="M491.5 47.3 l13 -1.2 M492 50.4 l15 -1.6 M494 53.2 l12 -1.2 M502 45.2 l7 -1.4" stroke-width="1.5" fill="none" stroke="#fff"/>
<path d="M449 58.6 l9 -3.6 M451 61.5 l6 -1.6" stroke-width="1.0" fill="none" stroke="#fff" stroke-opacity="0.8"/>
<g fill="#fff" stroke="none" fill-opacity="0.85"><circle cx="501.3" cy="79.5" r="0.50"/><circle cx="508.3" cy="75.9" r="0.40"/><circle cx="491.4" cy="65.3" r="0.59"/><circle cx="472.4" cy="51.4" r="0.33"/><circle cx="529.0" cy="59.9" r="0.44"/><circle cx="493.0" cy="54.9" r="0.47"/><circle cx="468.5" cy="60.0" r="0.34"/><circle cx="511.8" cy="60.8" r="0.42"/><circle cx="487.8" cy="74.8" r="0.37"/><circle cx="494.0" cy="57.3" r="0.50"/><circle cx="510.2" cy="73.9" r="0.57"/><circle cx="477.9" cy="61.1" r="0.44"/><circle cx="505.2" cy="67.3" r="0.36"/><circle cx="483.5" cy="49.3" r="0.43"/><circle cx="487.7" cy="51.8" r="0.58"/><circle cx="525.1" cy="52.5" r="0.33"/><circle cx="527.0" cy="65.7" r="0.47"/><circle cx="454.6" cy="65.8" r="0.54"/><circle cx="518.5" cy="68.8" r="0.41"/><circle cx="495.7" cy="50.0" r="0.53"/><circle cx="540.5" cy="62.8" r="0.45"/><circle cx="485.1" cy="82.8" r="0.31"/><circle cx="518.5" cy="52.2" r="0.54"/><circle cx="537.8" cy="47.5" r="0.60"/><circle cx="504.5" cy="78.1" r="0.31"/><circle cx="489.8" cy="70.1" r="0.35"/><circle cx="472.1" cy="65.3" r="0.56"/><circle cx="509.4" cy="48.5" r="0.38"/><circle cx="518.4" cy="51.9" r="0.51"/><circle cx="479.5" cy="66.7" r="0.36"/><circle cx="558.6" cy="57.3" r="0.58"/><circle cx="466.2" cy="56.1" r="0.39"/><circle cx="493.3" cy="65.4" r="0.53"/><circle cx="503.7" cy="80.5" r="0.50"/><circle cx="492.7" cy="73.2" r="0.44"/><circle cx="484.4" cy="68.8" r="0.51"/><circle cx="455.0" cy="70.8" r="0.59"/><circle cx="501.3" cy="80.8" r="0.42"/><circle cx="505.0" cy="68.2" r="0.39"/><circle cx="477.7" cy="68.2" r="0.40"/><circle cx="465.5" cy="61.4" r="0.48"/><circle cx="470.4" cy="75.8" r="0.59"/><circle cx="498.8" cy="49.4" r="0.50"/><circle cx="463.4" cy="74.0" r="0.46"/><circle cx="570.6" cy="46.0" r="0.41"/><circle cx="483.5" cy="77.1" r="0.53"/><circle cx="538.6" cy="60.8" r="0.38"/><circle cx="536.6" cy="65.8" r="0.46"/><circle cx="556.2" cy="44.1" r="0.49"/><circle cx="529.2" cy="61.6" r="0.56"/><circle cx="476.6" cy="54.5" r="0.41"/><circle cx="485.5" cy="69.1" r="0.40"/></g>
<path d="M458 72.5 l7 -2.6 M462 68 l5 -1.4 M455 66 l3 -1 M470 74 l4 -1.2 M478 70 l3 -0.6 M466 78.5 l5 -1.5 M482 62 l3 -0.8 M518 66 l4 -1.6 M530 58 l3 -1 M452 70.5 l2.5 -0.8" stroke-width="1.0" fill="none" stroke="#fff" stroke-opacity="0.9"/>
<line x1="494.0" y1="86.6" x2="496.8" y2="103.5" stroke-width="1.2" />
<line x1="507.5" y1="80.8" x2="520.8" y2="95.0" stroke-width="1.2" />
<line x1="496.8" y1="103.5" x2="503.0" y2="99.0" stroke-width="0.7" />
<line x1="574.2" y1="35.4" x2="587.7" y2="54.6" stroke-width="1.0" />
<line x1="575.0" y1="38.0" x2="584.0" y2="48.7" stroke-width="0.9" />
<path d="M577 41 l6 -2 M579 44.5 l7 -2.6" stroke-width="0.7" fill="none" />
</g>
</g>
</svg>
</body></html>
